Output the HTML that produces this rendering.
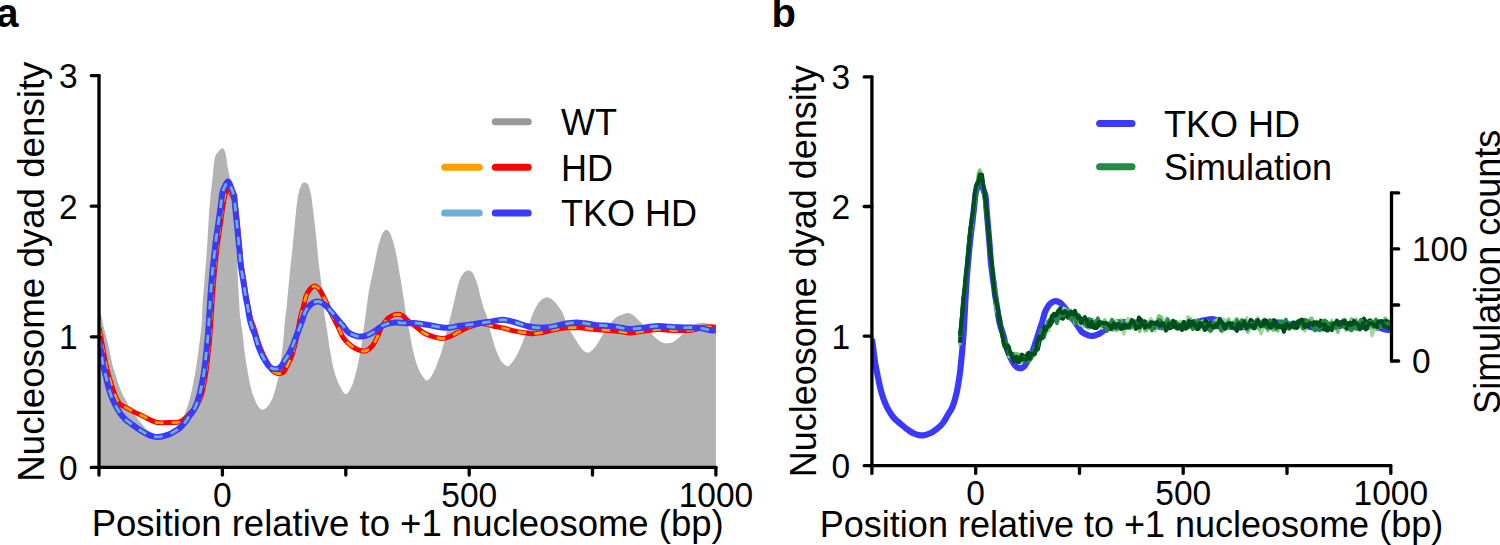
<!DOCTYPE html>
<html><head><meta charset="utf-8"><style>
html,body{margin:0;padding:0;background:#fff;width:1500px;height:545px;overflow:hidden;}
svg{display:block;}
text{font-family:"Liberation Sans", sans-serif;fill:#000;}
</style></head><body>
<svg width="1500" height="545" viewBox="0 0 1500 545">
<defs><clipPath id="ca"><rect x="99.05" y="0" width="616.85" height="467.40"/></clipPath><clipPath id="cb"><rect x="871.90" y="0" width="519.40" height="465.70"/></clipPath></defs>
<path d="M99.0,313.5 C99.4,313.6 100.1,312.2 100.9,314.4 C101.7,316.6 102.7,322.6 103.6,326.5 C104.5,330.4 105.5,333.8 106.4,337.5 C107.3,341.2 108.3,344.9 109.1,348.6 C109.9,352.3 110.7,356.8 111.3,359.6 C111.9,362.4 112.0,363.4 112.6,365.5 C113.2,367.6 114.1,369.7 114.9,372.2 C115.7,374.7 116.4,377.7 117.3,380.5 C118.2,383.3 119.3,386.3 120.3,388.9 C121.3,391.5 122.2,393.8 123.3,396.0 C124.4,398.2 125.7,399.8 126.8,402.0 C127.9,404.2 128.6,407.1 130.0,409.5 C131.4,411.9 134.0,414.2 135.5,416.1 C137.0,418.0 137.8,419.0 139.2,420.7 C140.6,422.4 142.3,424.5 143.8,426.2 C145.3,427.9 146.8,429.7 148.3,430.8 C149.8,431.9 151.5,432.4 152.9,433.0 C154.3,433.6 155.1,433.9 156.6,434.2 C158.1,434.5 160.3,435.0 162.0,435.0 C163.7,435.0 165.3,434.6 167.0,434.0 C168.7,433.4 170.3,432.7 172.0,431.5 C173.7,430.3 175.5,428.8 177.0,427.0 C178.5,425.2 179.8,422.4 181.0,420.5 C182.2,418.6 182.9,418.2 184.0,415.8 C185.1,413.4 186.3,410.1 187.5,406.4 C188.7,402.7 189.9,398.7 191.1,393.5 C192.3,388.3 193.7,381.2 194.8,375.1 C195.9,369.0 196.7,362.9 197.6,356.8 C198.5,350.7 199.3,344.2 200.0,338.4 C200.7,332.6 201.4,327.8 201.8,322.0 C202.2,316.2 202.3,309.3 202.6,303.8 C202.9,298.3 203.4,294.0 203.8,289.1 C204.2,284.2 204.5,279.3 204.9,274.4 C205.3,269.5 205.8,264.6 206.2,259.7 C206.6,254.8 206.9,249.6 207.2,245.0 C207.5,240.4 207.7,237.2 208.0,232.0 C208.3,226.8 208.6,219.4 209.0,214.1 C209.4,208.8 209.8,204.7 210.2,200.0 C210.6,195.3 211.1,190.3 211.6,186.0 C212.1,181.7 212.5,177.5 212.9,174.0 C213.3,170.5 213.5,167.6 213.8,165.0 C214.1,162.4 214.3,160.2 214.7,158.5 C215.1,156.8 215.3,155.7 216.0,154.5 C216.7,153.3 217.9,152.2 218.7,151.3 C219.4,150.4 219.9,149.8 220.5,149.3 C221.1,148.8 221.5,148.5 222.0,148.4 C222.5,148.3 223.0,148.4 223.5,148.8 C224.0,149.2 224.4,150.1 224.8,151.0 C225.2,151.9 225.5,153.2 225.8,154.5 C226.1,155.8 226.3,157.0 226.6,159.0 C226.9,161.0 227.2,164.2 227.6,166.5 C228.0,168.8 228.4,170.8 228.9,173.0 C229.4,175.2 229.9,177.7 230.3,179.7 C230.8,181.7 231.2,183.3 231.6,185.0 C232.0,186.7 232.2,186.7 232.6,190.0 C233.0,193.3 233.4,199.7 233.8,205.0 C234.2,210.3 234.6,216.2 235.0,222.0 C235.4,227.8 235.7,234.6 236.0,240.0 C236.3,245.4 236.6,249.8 236.8,254.7 C237.1,259.6 237.3,264.5 237.5,269.4 C237.7,274.3 237.9,279.2 238.2,284.1 C238.4,289.0 238.7,293.9 239.0,298.8 C239.3,303.7 239.5,309.6 239.8,313.5 C240.1,317.4 240.5,318.7 241.0,322.0 C241.5,325.3 242.0,328.4 242.6,333.4 C243.2,338.4 243.8,345.7 244.6,351.8 C245.4,357.9 246.3,364.0 247.4,370.1 C248.5,376.2 249.6,383.3 251.0,388.5 C252.4,393.7 254.3,398.2 255.6,401.4 C256.9,404.6 257.8,406.1 259.0,407.5 C260.2,408.9 261.4,409.8 262.8,409.7 C264.2,409.6 265.9,408.4 267.5,406.6 C269.1,404.8 270.9,401.7 272.2,398.8 C273.5,395.9 274.3,393.0 275.3,389.4 C276.3,385.8 277.5,381.6 278.4,376.9 C279.3,372.2 280.1,366.5 280.8,361.3 C281.5,356.1 282.2,350.8 282.8,345.6 C283.4,340.4 283.7,334.6 284.1,330.0 C284.5,325.4 284.9,321.6 285.3,318.0 C285.7,314.4 286.1,312.3 286.5,308.6 C286.9,304.9 287.2,300.0 287.6,295.7 C288.0,291.4 288.5,287.2 288.9,282.9 C289.3,278.6 289.8,273.5 290.1,270.0 C290.5,266.5 290.5,266.3 291.0,261.9 C291.5,257.5 292.3,249.6 292.9,243.5 C293.5,237.4 294.1,231.2 294.7,225.1 C295.3,219.0 295.9,212.0 296.5,206.8 C297.1,201.6 297.6,197.4 298.4,193.9 C299.2,190.4 300.3,187.4 301.1,185.6 C301.9,183.8 302.4,183.5 303.0,183.0 C303.6,182.5 304.2,182.5 304.8,182.5 C305.4,182.5 306.0,182.5 306.6,183.0 C307.2,183.5 307.8,183.8 308.5,185.6 C309.2,187.4 310.2,190.4 310.9,193.9 C311.6,197.4 312.0,201.6 312.7,206.8 C313.4,212.0 314.2,219.0 314.9,225.1 C315.6,231.2 316.2,237.4 316.8,243.5 C317.4,249.6 318.1,257.5 318.6,261.9 C319.1,266.3 319.3,267.5 319.6,270.0 C319.9,272.5 320.2,274.5 320.5,277.0 C320.8,279.5 321.2,281.7 321.6,285.0 C322.0,288.3 322.4,292.8 322.8,297.0 C323.2,301.2 323.6,306.4 324.0,310.2 C324.4,314.0 324.8,316.6 325.3,320.0 C325.8,323.4 326.3,325.3 327.1,330.4 C327.9,335.5 328.9,343.9 330.1,350.6 C331.3,357.3 332.4,364.7 334.1,370.8 C335.8,376.9 338.2,383.1 340.2,387.0 C342.2,390.9 344.3,394.4 346.3,394.0 C348.3,393.6 350.6,388.8 352.3,384.9 C354.0,381.0 355.2,375.5 356.4,370.8 C357.6,366.1 358.5,361.0 359.4,356.7 C360.2,352.4 360.8,349.4 361.5,345.0 C362.2,340.6 362.7,335.2 363.4,330.4 C364.1,325.6 364.9,320.7 365.5,316.0 C366.1,311.3 366.7,306.3 367.3,302.0 C367.9,297.7 368.5,293.7 369.1,290.0 C369.8,286.3 370.5,283.2 371.2,280.0 C371.9,276.8 372.5,273.8 373.2,270.5 C373.9,267.2 374.4,264.4 375.2,260.4 C376.0,256.4 377.2,250.3 378.2,246.3 C379.2,242.3 380.4,238.7 381.3,236.2 C382.2,233.7 383.0,232.5 383.8,231.5 C384.6,230.5 385.5,230.1 386.3,230.1 C387.1,230.1 388.0,230.5 388.8,231.5 C389.6,232.5 390.5,233.7 391.4,236.2 C392.3,238.7 393.4,242.3 394.4,246.3 C395.4,250.3 396.5,255.7 397.4,260.4 C398.3,265.1 399.0,269.7 399.8,274.5 C400.6,279.3 401.6,284.4 402.3,289.0 C403.0,293.6 403.6,298.0 404.2,302.0 C404.8,306.0 405.3,309.7 405.8,313.0 C406.3,316.3 406.8,319.3 407.3,322.0 C407.8,324.7 408.3,326.1 408.9,329.0 C409.5,331.9 410.1,335.4 410.8,339.3 C411.6,343.2 412.4,348.0 413.4,352.1 C414.4,356.2 415.4,360.3 416.6,363.7 C417.8,367.1 419.1,370.2 420.4,372.7 C421.7,375.2 423.2,377.2 424.3,378.5 C425.4,379.8 425.8,380.6 426.9,380.4 C428.0,380.2 429.4,378.9 430.7,377.2 C432.0,375.5 433.4,372.6 434.6,370.1 C435.8,367.6 436.9,364.4 437.8,362.0 C438.7,359.6 439.5,357.8 440.1,356.0 C440.8,354.2 441.2,352.7 441.7,351.0 C442.2,349.3 442.6,347.7 443.1,346.0 C443.6,344.3 444.1,342.8 444.5,341.0 C444.9,339.2 445.4,337.3 445.8,335.5 C446.2,333.7 446.6,331.9 447.0,330.0 C447.4,328.1 447.9,326.2 448.5,324.0 C449.1,321.8 449.9,319.0 450.5,316.5 C451.1,314.0 451.8,311.7 452.4,309.0 C453.0,306.3 453.7,303.4 454.4,300.5 C455.1,297.6 455.7,294.3 456.4,291.5 C457.1,288.7 457.8,285.8 458.5,283.5 C459.2,281.2 459.9,279.2 460.7,277.5 C461.5,275.8 462.6,274.4 463.5,273.3 C464.4,272.2 465.0,271.7 465.8,271.2 C466.6,270.7 467.5,270.5 468.3,270.5 C469.1,270.5 470.0,270.6 470.8,271.2 C471.6,271.8 472.2,271.9 473.3,274.1 C474.4,276.3 476.2,280.5 477.4,284.2 C478.6,287.9 479.2,292.1 480.4,296.4 C481.6,300.7 483.4,306.9 484.4,310.0 C485.4,313.1 485.9,313.3 486.5,315.0 C487.1,316.7 487.5,317.5 488.1,320.0 C488.7,322.5 489.4,327.3 490.1,330.2 C490.8,333.1 491.4,334.8 492.1,337.2 C492.8,339.6 493.4,341.9 494.1,344.3 C494.9,346.7 495.8,349.2 496.6,351.4 C497.5,353.6 498.3,355.5 499.2,357.4 C500.1,359.2 501.2,361.2 502.2,362.5 C503.2,363.8 504.1,364.4 505.2,365.0 C506.2,365.6 507.2,366.7 508.5,366.0 C509.8,365.3 511.6,363.1 513.2,360.9 C514.8,358.7 516.5,356.0 518.1,352.7 C519.7,349.4 521.5,345.0 523.0,341.1 C524.5,337.2 526.0,333.2 527.2,329.6 C528.5,326.0 529.3,323.0 530.5,319.7 C531.7,316.4 533.1,312.8 534.6,309.8 C536.1,306.8 538.0,303.5 539.6,301.5 C541.2,299.5 543.1,298.6 544.5,297.9 C545.9,297.2 546.4,297.1 547.8,297.4 C549.2,297.7 551.1,298.5 552.8,299.9 C554.4,301.3 556.1,303.4 557.7,305.6 C559.4,307.8 561.2,310.1 562.7,313.1 C564.2,316.1 565.1,320.5 566.6,323.8 C568.1,327.1 570.0,330.0 571.6,332.9 C573.2,335.8 574.9,338.5 576.5,341.1 C578.1,343.7 579.7,346.6 581.5,348.5 C583.3,350.4 585.3,352.6 587.2,352.7 C589.1,352.8 591.2,351.0 593.0,349.4 C594.8,347.8 596.4,345.3 598.0,342.8 C599.6,340.3 601.2,337.2 602.9,334.5 C604.5,331.8 606.2,328.6 607.9,326.3 C609.5,324.0 611.1,322.1 612.8,320.5 C614.4,318.9 616.1,317.4 617.8,316.4 C619.4,315.4 621.1,315.0 622.7,314.4 C624.4,313.8 626.0,312.9 627.7,313.0 C629.4,313.1 631.1,313.9 632.7,314.8 C634.3,315.8 635.6,317.3 637.1,318.7 C638.6,320.1 640.0,321.6 641.5,323.1 C643.0,324.7 644.2,326.3 645.9,328.0 C647.5,329.7 649.6,331.6 651.4,333.5 C653.2,335.4 655.1,337.6 656.9,339.1 C658.7,340.6 660.5,341.7 662.4,342.4 C664.2,343.1 666.1,343.3 668.0,343.2 C669.9,343.1 671.7,342.8 673.5,341.8 C675.3,340.8 677.2,339.0 679.0,337.4 C680.8,335.8 682.7,334.0 684.5,332.4 C686.3,330.8 688.2,329.4 690.0,328.0 C691.8,326.6 693.7,325.1 695.5,324.2 C697.3,323.3 699.2,322.9 701.0,322.8 C702.8,322.7 704.7,323.2 706.5,323.4 C708.3,323.6 710.4,324.0 712.0,324.2 C713.6,324.4 715.2,324.6 715.9,324.7 L715.9,467.4 L99.0,467.4 Z" fill="#b3b3b3"/>
<g clip-path="url(#ca)">
<path d="M99.0,327.6 C99.5,329.8 100.8,336.9 101.5,341.0 C102.2,345.1 102.8,348.0 103.5,352.0 C104.2,356.0 105.2,361.2 106.0,365.0 C106.8,368.8 107.4,371.3 108.3,374.5 C109.2,377.7 110.2,380.7 111.3,384.1 C112.4,387.5 113.6,391.6 114.9,394.8 C116.2,398.0 117.7,401.3 119.1,403.2 C120.5,405.1 121.5,405.1 123.3,406.2 C125.1,407.3 128.1,408.7 130.0,409.7 C131.9,410.7 133.1,411.6 134.6,412.4 C136.1,413.2 137.7,413.6 139.2,414.3 C140.7,415.0 142.3,415.8 143.8,416.6 C145.3,417.4 146.8,418.1 148.3,418.9 C149.8,419.6 151.4,420.5 152.9,421.1 C154.4,421.7 156.0,422.2 157.5,422.5 C159.0,422.8 160.6,422.8 162.1,422.8 C163.6,422.8 165.2,422.6 166.7,422.5 C168.2,422.4 169.8,422.5 171.3,422.5 C172.8,422.5 174.4,422.6 175.9,422.5 C177.4,422.4 179.0,422.3 180.5,421.6 C182.0,420.9 183.5,419.8 185.0,418.5 C186.5,417.2 187.6,416.1 189.5,414.0 C191.4,411.9 194.4,409.4 196.5,406.0 C198.6,402.6 200.3,398.6 201.8,393.5 C203.3,388.4 204.5,381.2 205.5,375.1 C206.5,369.0 207.1,362.9 207.8,356.8 C208.5,350.7 209.2,344.5 209.7,338.4 C210.2,332.3 210.6,325.7 211.0,320.0 C211.4,314.3 211.7,309.2 212.0,304.0 C212.3,298.8 212.6,293.9 213.0,289.0 C213.4,284.1 213.8,279.3 214.2,274.4 C214.6,269.5 215.2,264.4 215.7,259.7 C216.2,255.0 216.7,249.8 217.2,246.0 C217.7,242.2 218.1,239.9 218.5,237.0 C218.9,234.1 219.2,231.9 219.7,228.8 C220.1,225.7 220.7,221.9 221.2,218.5 C221.7,215.1 222.1,211.4 222.6,208.2 C223.1,205.0 223.5,201.9 224.0,199.4 C224.5,196.9 225.0,194.7 225.5,193.0 C226.0,191.3 226.5,189.6 227.2,189.2 C227.9,188.8 228.7,189.5 229.5,190.5 C230.3,191.5 231.2,193.4 232.0,195.0 C232.8,196.6 233.7,198.2 234.3,200.0 C234.9,201.8 235.1,203.5 235.5,206.0 C235.9,208.5 236.2,211.7 236.5,215.0 C236.8,218.3 237.2,222.2 237.6,226.0 C238.0,229.8 238.3,233.6 238.7,237.6 C239.1,241.6 239.5,245.9 239.9,250.0 C240.3,254.1 240.5,258.3 240.9,262.0 C241.3,265.7 241.8,268.7 242.4,272.4 C243.0,276.1 243.7,280.2 244.3,284.1 C244.9,288.0 245.4,292.1 246.1,296.0 C246.8,299.9 247.6,303.8 248.3,307.6 C249.1,311.4 249.7,315.6 250.6,319.0 C251.5,322.4 252.9,324.8 254.0,328.0 C255.1,331.2 255.9,335.1 257.0,338.5 C258.1,341.9 259.2,345.2 260.5,348.5 C261.8,351.8 263.5,355.6 265.0,358.5 C266.5,361.4 268.3,364.0 269.5,366.0 C270.7,368.0 270.8,369.2 272.2,370.5 C273.6,371.8 275.9,373.2 277.7,373.5 C279.5,373.8 281.8,373.2 283.1,372.5 C284.4,371.8 284.5,370.6 285.4,369.0 C286.3,367.4 287.6,365.3 288.7,363.0 C289.8,360.7 291.1,357.9 292.0,355.3 C292.9,352.7 293.5,350.3 294.2,347.5 C294.9,344.7 295.8,341.6 296.4,338.7 C297.0,335.8 297.4,333.4 298.1,329.9 C298.8,326.4 299.5,321.6 300.4,317.6 C301.3,313.6 302.6,309.6 303.6,306.0 C304.6,302.4 305.2,298.4 306.2,295.7 C307.2,293.0 308.0,291.5 309.4,289.9 C310.8,288.3 312.9,286.1 314.6,286.1 C316.3,286.1 318.2,288.1 319.7,289.9 C321.2,291.7 322.3,294.5 323.6,297.0 C324.9,299.5 326.1,301.9 327.4,304.7 C328.7,307.5 329.8,310.6 331.3,313.7 C332.8,316.8 334.8,320.1 336.2,323.0 C337.6,325.9 338.7,328.3 340.0,331.0 C341.3,333.7 342.1,336.4 344.2,339.0 C346.2,341.6 349.6,344.7 352.3,346.6 C355.0,348.5 358.0,349.9 360.4,350.6 C362.8,351.3 364.5,351.4 366.5,350.6 C368.5,349.8 370.6,348.0 372.5,345.6 C374.4,343.2 376.1,339.5 377.6,336.5 C379.1,333.5 379.7,330.4 381.3,327.5 C382.9,324.6 385.4,321.1 387.3,319.0 C389.2,316.9 391.1,316.0 393.0,315.2 C394.9,314.4 396.7,314.2 398.4,314.3 C400.1,314.4 401.5,315.0 403.0,316.0 C404.5,317.0 405.4,318.6 407.3,320.2 C409.2,321.8 411.9,323.6 414.7,325.7 C417.5,327.8 420.8,331.2 423.9,333.0 C426.9,334.8 429.9,335.8 433.0,336.7 C436.1,337.6 439.4,338.5 442.2,338.5 C444.9,338.5 446.8,337.8 449.5,336.7 C452.2,335.6 456.1,333.4 458.7,332.1 C461.3,330.8 463.1,329.7 465.0,328.8 C466.9,327.9 467.7,327.6 470.3,326.7 C472.9,325.8 477.6,324.0 480.4,323.6 C483.2,323.2 484.9,323.9 487.0,324.3 C489.1,324.7 490.3,325.4 493.0,326.0 C495.7,326.6 500.2,327.3 503.3,328.0 C506.4,328.7 508.8,329.7 511.5,330.4 C514.2,331.1 517.0,331.5 519.8,332.0 C522.5,332.5 525.8,332.9 528.0,333.2 C530.2,333.5 531.1,333.8 533.0,333.7 C534.9,333.6 537.1,333.3 539.6,332.9 C542.1,332.5 545.0,331.8 547.8,331.2 C550.5,330.6 553.2,329.8 556.1,329.2 C559.0,328.6 561.6,328.2 565.0,327.9 C568.4,327.6 573.2,327.6 576.5,327.6 C579.8,327.7 582.0,327.9 584.8,328.2 C587.5,328.5 590.2,328.9 593.0,329.2 C595.8,329.5 598.5,329.7 601.3,329.9 C604.0,330.1 606.8,330.2 609.5,330.4 C612.2,330.6 615.0,330.8 617.8,331.2 C620.5,331.6 623.9,332.2 626.0,332.5 C628.1,332.8 628.8,333.0 630.5,333.0 C632.2,333.0 634.2,332.7 636.0,332.4 C637.8,332.1 639.7,331.6 641.5,331.3 C643.3,331.0 645.2,331.0 647.0,330.8 C648.8,330.6 650.7,330.2 652.5,330.0 C654.3,329.8 656.2,329.4 658.0,329.4 C659.8,329.3 661.6,329.6 663.5,329.7 C665.4,329.8 667.2,330.1 669.1,330.2 C671.0,330.3 672.8,330.4 674.6,330.5 C676.4,330.6 678.3,330.5 680.1,330.5 C681.9,330.5 683.8,330.6 685.6,330.5 C687.4,330.4 689.3,330.4 691.1,330.2 C692.9,330.0 694.8,329.6 696.6,329.1 C698.4,328.7 700.3,327.9 702.1,327.5 C703.9,327.1 705.8,327.0 707.6,326.9 C709.4,326.8 711.7,326.8 713.1,326.9 C714.5,326.9 715.4,327.1 715.9,327.2" fill="none" stroke="#fa0000" stroke-width="5.0" stroke-linejoin="round"/>
<path d="M99.0,327.6 C99.5,329.8 100.8,336.9 101.5,341.0 C102.2,345.1 102.8,348.0 103.5,352.0 C104.2,356.0 105.2,361.2 106.0,365.0 C106.8,368.8 107.4,371.3 108.3,374.5 C109.2,377.7 110.2,380.7 111.3,384.1 C112.4,387.5 113.6,391.6 114.9,394.8 C116.2,398.0 117.7,401.3 119.1,403.2 C120.5,405.1 121.5,405.1 123.3,406.2 C125.1,407.3 128.1,408.7 130.0,409.7 C131.9,410.7 133.1,411.6 134.6,412.4 C136.1,413.2 137.7,413.6 139.2,414.3 C140.7,415.0 142.3,415.8 143.8,416.6 C145.3,417.4 146.8,418.1 148.3,418.9 C149.8,419.6 151.4,420.5 152.9,421.1 C154.4,421.7 156.0,422.2 157.5,422.5 C159.0,422.8 160.6,422.8 162.1,422.8 C163.6,422.8 165.2,422.6 166.7,422.5 C168.2,422.4 169.8,422.5 171.3,422.5 C172.8,422.5 174.4,422.6 175.9,422.5 C177.4,422.4 179.0,422.3 180.5,421.6 C182.0,420.9 183.5,419.8 185.0,418.5 C186.5,417.2 187.6,416.1 189.5,414.0 C191.4,411.9 194.4,409.4 196.5,406.0 C198.6,402.6 200.3,398.6 201.8,393.5 C203.3,388.4 204.5,381.2 205.5,375.1 C206.5,369.0 207.1,362.9 207.8,356.8 C208.5,350.7 209.2,344.5 209.7,338.4 C210.2,332.3 210.6,325.7 211.0,320.0 C211.4,314.3 211.7,309.2 212.0,304.0 C212.3,298.8 212.6,293.9 213.0,289.0 C213.4,284.1 213.8,279.3 214.2,274.4 C214.6,269.5 215.2,264.4 215.7,259.7 C216.2,255.0 216.7,249.8 217.2,246.0 C217.7,242.2 218.1,239.9 218.5,237.0 C218.9,234.1 219.2,231.9 219.7,228.8 C220.1,225.7 220.7,221.9 221.2,218.5 C221.7,215.1 222.1,211.4 222.6,208.2 C223.1,205.0 223.5,201.9 224.0,199.4 C224.5,196.9 225.0,194.7 225.5,193.0 C226.0,191.3 226.5,189.6 227.2,189.2 C227.9,188.8 228.7,189.5 229.5,190.5 C230.3,191.5 231.2,193.4 232.0,195.0 C232.8,196.6 233.7,198.2 234.3,200.0 C234.9,201.8 235.1,203.5 235.5,206.0 C235.9,208.5 236.2,211.7 236.5,215.0 C236.8,218.3 237.2,222.2 237.6,226.0 C238.0,229.8 238.3,233.6 238.7,237.6 C239.1,241.6 239.5,245.9 239.9,250.0 C240.3,254.1 240.5,258.3 240.9,262.0 C241.3,265.7 241.8,268.7 242.4,272.4 C243.0,276.1 243.7,280.2 244.3,284.1 C244.9,288.0 245.4,292.1 246.1,296.0 C246.8,299.9 247.6,303.8 248.3,307.6 C249.1,311.4 249.7,315.6 250.6,319.0 C251.5,322.4 252.9,324.8 254.0,328.0 C255.1,331.2 255.9,335.1 257.0,338.5 C258.1,341.9 259.2,345.2 260.5,348.5 C261.8,351.8 263.5,355.6 265.0,358.5 C266.5,361.4 268.3,364.0 269.5,366.0 C270.7,368.0 270.8,369.2 272.2,370.5 C273.6,371.8 275.9,373.2 277.7,373.5 C279.5,373.8 281.8,373.2 283.1,372.5 C284.4,371.8 284.5,370.6 285.4,369.0 C286.3,367.4 287.6,365.3 288.7,363.0 C289.8,360.7 291.1,357.9 292.0,355.3 C292.9,352.7 293.5,350.3 294.2,347.5 C294.9,344.7 295.8,341.6 296.4,338.7 C297.0,335.8 297.4,333.4 298.1,329.9 C298.8,326.4 299.5,321.6 300.4,317.6 C301.3,313.6 302.6,309.6 303.6,306.0 C304.6,302.4 305.2,298.4 306.2,295.7 C307.2,293.0 308.0,291.5 309.4,289.9 C310.8,288.3 312.9,286.1 314.6,286.1 C316.3,286.1 318.2,288.1 319.7,289.9 C321.2,291.7 322.3,294.5 323.6,297.0 C324.9,299.5 326.1,301.9 327.4,304.7 C328.7,307.5 329.8,310.6 331.3,313.7 C332.8,316.8 334.8,320.1 336.2,323.0 C337.6,325.9 338.7,328.3 340.0,331.0 C341.3,333.7 342.1,336.4 344.2,339.0 C346.2,341.6 349.6,344.7 352.3,346.6 C355.0,348.5 358.0,349.9 360.4,350.6 C362.8,351.3 364.5,351.4 366.5,350.6 C368.5,349.8 370.6,348.0 372.5,345.6 C374.4,343.2 376.1,339.5 377.6,336.5 C379.1,333.5 379.7,330.4 381.3,327.5 C382.9,324.6 385.4,321.1 387.3,319.0 C389.2,316.9 391.1,316.0 393.0,315.2 C394.9,314.4 396.7,314.2 398.4,314.3 C400.1,314.4 401.5,315.0 403.0,316.0 C404.5,317.0 405.4,318.6 407.3,320.2 C409.2,321.8 411.9,323.6 414.7,325.7 C417.5,327.8 420.8,331.2 423.9,333.0 C426.9,334.8 429.9,335.8 433.0,336.7 C436.1,337.6 439.4,338.5 442.2,338.5 C444.9,338.5 446.8,337.8 449.5,336.7 C452.2,335.6 456.1,333.4 458.7,332.1 C461.3,330.8 463.1,329.7 465.0,328.8 C466.9,327.9 467.7,327.6 470.3,326.7 C472.9,325.8 477.6,324.0 480.4,323.6 C483.2,323.2 484.9,323.9 487.0,324.3 C489.1,324.7 490.3,325.4 493.0,326.0 C495.7,326.6 500.2,327.3 503.3,328.0 C506.4,328.7 508.8,329.7 511.5,330.4 C514.2,331.1 517.0,331.5 519.8,332.0 C522.5,332.5 525.8,332.9 528.0,333.2 C530.2,333.5 531.1,333.8 533.0,333.7 C534.9,333.6 537.1,333.3 539.6,332.9 C542.1,332.5 545.0,331.8 547.8,331.2 C550.5,330.6 553.2,329.8 556.1,329.2 C559.0,328.6 561.6,328.2 565.0,327.9 C568.4,327.6 573.2,327.6 576.5,327.6 C579.8,327.7 582.0,327.9 584.8,328.2 C587.5,328.5 590.2,328.9 593.0,329.2 C595.8,329.5 598.5,329.7 601.3,329.9 C604.0,330.1 606.8,330.2 609.5,330.4 C612.2,330.6 615.0,330.8 617.8,331.2 C620.5,331.6 623.9,332.2 626.0,332.5 C628.1,332.8 628.8,333.0 630.5,333.0 C632.2,333.0 634.2,332.7 636.0,332.4 C637.8,332.1 639.7,331.6 641.5,331.3 C643.3,331.0 645.2,331.0 647.0,330.8 C648.8,330.6 650.7,330.2 652.5,330.0 C654.3,329.8 656.2,329.4 658.0,329.4 C659.8,329.3 661.6,329.6 663.5,329.7 C665.4,329.8 667.2,330.1 669.1,330.2 C671.0,330.3 672.8,330.4 674.6,330.5 C676.4,330.6 678.3,330.5 680.1,330.5 C681.9,330.5 683.8,330.6 685.6,330.5 C687.4,330.4 689.3,330.4 691.1,330.2 C692.9,330.0 694.8,329.6 696.6,329.1 C698.4,328.7 700.3,327.9 702.1,327.5 C703.9,327.1 705.8,327.0 707.6,326.9 C709.4,326.8 711.7,326.8 713.1,326.9 C714.5,326.9 715.4,327.1 715.9,327.2" fill="none" stroke="#ffa000" stroke-width="2.8" stroke-dasharray="8.5,8.5" stroke-linejoin="round"/>
<path d="M99.0,339.7 C99.5,342.3 100.9,351.1 101.6,355.2 C102.3,359.3 102.3,360.9 103.0,364.5 C103.7,368.1 105.0,372.8 106.0,376.9 C107.0,381.0 107.8,385.2 108.9,388.9 C110.0,392.6 111.2,396.0 112.5,399.2 C113.8,402.4 115.1,405.0 116.7,407.8 C118.3,410.6 120.5,413.8 122.1,415.8 C123.6,417.8 124.7,418.8 126.0,420.0 C127.3,421.2 128.6,421.9 130.0,423.0 C131.4,424.1 133.1,425.2 134.6,426.3 C136.1,427.4 137.7,428.6 139.2,429.6 C140.7,430.6 142.3,431.5 143.8,432.4 C145.3,433.2 146.8,434.0 148.3,434.7 C149.8,435.4 151.4,435.9 152.9,436.3 C154.4,436.7 156.0,436.9 157.5,436.9 C159.0,436.9 160.6,436.8 162.1,436.5 C163.6,436.2 165.2,435.7 166.7,435.2 C168.2,434.7 169.8,434.1 171.3,433.3 C172.8,432.5 174.4,431.6 175.9,430.6 C177.4,429.6 179.0,428.7 180.5,427.3 C182.0,425.9 183.6,424.3 185.0,422.5 C186.4,420.7 187.4,418.9 189.0,416.5 C190.6,414.1 193.0,412.0 194.8,408.2 C196.6,404.4 198.4,399.0 199.8,393.5 C201.2,388.0 202.5,381.2 203.5,375.1 C204.5,369.0 205.1,362.9 205.8,356.8 C206.5,350.7 207.2,344.5 207.7,338.4 C208.2,332.3 208.6,325.7 209.0,320.0 C209.4,314.3 209.7,309.2 210.0,304.0 C210.3,298.8 210.6,293.9 211.0,289.0 C211.4,284.1 211.8,279.3 212.2,274.4 C212.6,269.5 213.2,264.4 213.7,259.7 C214.2,255.0 214.8,249.8 215.2,246.0 C215.6,242.2 215.9,239.9 216.3,237.0 C216.7,234.1 217.1,231.9 217.5,228.8 C217.9,225.7 218.5,221.9 219.0,218.5 C219.5,215.1 220.0,211.4 220.4,208.2 C220.8,205.0 221.1,202.1 221.5,199.4 C221.9,196.7 222.0,194.2 222.6,192.0 C223.2,189.8 224.0,187.9 224.9,186.2 C225.8,184.4 227.0,181.8 227.8,181.5 C228.7,181.2 229.3,183.2 230.0,184.7 C230.7,186.2 231.5,188.8 232.2,190.6 C232.9,192.4 233.6,193.3 234.1,195.5 C234.6,197.7 234.6,200.7 234.9,203.8 C235.2,206.9 235.5,210.4 235.9,214.1 C236.3,217.8 236.7,222.0 237.1,225.9 C237.5,229.8 237.8,233.6 238.2,237.6 C238.6,241.6 239.0,245.9 239.4,250.0 C239.8,254.1 240.0,258.4 240.4,262.1 C240.8,265.8 241.3,268.7 241.9,272.4 C242.5,276.1 243.2,280.2 243.8,284.1 C244.4,288.0 244.9,292.0 245.6,295.9 C246.3,299.8 247.1,303.6 247.8,307.6 C248.5,311.6 249.2,316.6 250.0,320.0 C250.8,323.4 251.5,325.6 252.3,328.0 C253.1,330.4 254.0,331.8 255.0,334.7 C256.0,337.6 256.8,342.0 258.1,345.6 C259.4,349.2 260.9,353.1 262.8,356.6 C264.7,360.1 267.2,364.4 269.3,366.5 C271.4,368.6 273.3,369.1 275.1,369.2 C276.9,369.3 278.7,368.5 280.2,367.2 C281.7,365.9 282.9,363.5 284.3,361.3 C285.7,359.1 287.4,356.5 288.7,354.2 C290.0,351.9 290.9,350.1 292.0,347.5 C293.1,344.9 294.2,341.6 295.3,338.7 C296.4,335.8 297.6,332.8 298.7,329.9 C299.8,327.0 301.0,324.0 302.0,321.1 C303.0,318.2 303.9,314.7 304.9,312.4 C305.9,310.1 306.9,308.8 308.1,307.3 C309.3,305.8 310.5,304.4 312.0,303.4 C313.5,302.4 315.4,301.6 317.1,301.5 C318.8,301.4 320.6,301.8 322.3,302.8 C324.0,303.8 325.7,305.6 327.4,307.3 C329.1,309.0 330.9,311.1 332.6,313.1 C334.3,315.1 336.0,317.5 337.7,319.5 C339.4,321.5 341.0,323.2 342.8,325.3 C344.6,327.4 346.0,330.6 348.3,332.4 C350.6,334.2 354.0,335.4 356.4,336.1 C358.8,336.8 360.4,336.7 362.4,336.5 C364.4,336.3 366.5,335.7 368.5,334.8 C370.5,333.9 372.6,332.6 374.5,331.4 C376.4,330.2 378.2,328.5 380.0,327.4 C381.8,326.2 382.7,325.3 385.3,324.5 C387.9,323.7 392.0,322.7 395.4,322.5 C398.8,322.3 402.0,323.1 405.5,323.2 C409.0,323.3 412.8,322.9 416.5,323.2 C420.2,323.5 423.5,324.1 427.5,324.8 C431.5,325.5 436.6,326.7 440.4,327.2 C444.2,327.7 446.8,327.9 450.1,327.7 C453.4,327.4 456.8,326.2 460.2,325.7 C463.6,325.2 466.9,325.1 470.3,324.6 C473.7,324.2 477.0,323.5 480.4,323.0 C483.8,322.5 487.7,322.0 490.5,321.6 C493.3,321.2 494.9,320.7 497.0,320.4 C499.1,320.1 500.9,319.5 503.3,319.7 C505.7,319.9 508.8,320.6 511.5,321.3 C514.2,322.0 517.0,323.0 519.8,323.8 C522.5,324.6 525.2,325.7 528.0,326.3 C530.8,326.9 533.5,327.4 536.3,327.6 C539.0,327.8 541.8,327.8 544.5,327.6 C547.2,327.4 550.0,327.1 552.8,326.6 C555.5,326.1 558.4,325.2 561.0,324.6 C563.6,324.1 565.7,323.6 568.3,323.3 C570.9,323.0 573.8,322.6 576.5,322.6 C579.2,322.6 582.0,323.0 584.8,323.3 C587.5,323.6 590.2,324.2 593.0,324.6 C595.8,325.0 598.5,325.2 601.3,325.4 C604.0,325.6 606.8,325.6 609.5,325.9 C612.2,326.2 615.0,326.6 617.8,327.1 C620.5,327.6 623.9,328.4 626.0,328.7 C628.1,329.0 628.8,329.1 630.5,329.1 C632.2,329.1 634.2,328.8 636.0,328.6 C637.8,328.4 639.7,328.2 641.5,328.0 C643.3,327.8 645.2,327.5 647.0,327.2 C648.8,326.9 650.7,326.6 652.5,326.4 C654.3,326.2 656.2,326.1 658.0,326.1 C659.8,326.1 661.6,326.1 663.5,326.2 C665.4,326.3 667.2,326.5 669.1,326.7 C671.0,326.9 672.8,327.1 674.6,327.2 C676.4,327.3 678.3,327.2 680.1,327.3 C681.9,327.4 683.8,327.6 685.6,327.6 C687.4,327.6 689.3,327.5 691.1,327.5 C692.9,327.5 694.8,327.6 696.6,327.7 C698.4,327.8 700.3,328.1 702.1,328.4 C703.9,328.7 705.8,329.3 707.6,329.7 C709.4,330.1 711.7,330.4 713.1,330.5 C714.5,330.6 715.4,330.5 715.9,330.5" fill="none" stroke="#3a3aff" stroke-width="6.0" stroke-linejoin="round"/>
<path d="M99.0,339.7 C99.5,342.3 100.9,351.1 101.6,355.2 C102.3,359.3 102.3,360.9 103.0,364.5 C103.7,368.1 105.0,372.8 106.0,376.9 C107.0,381.0 107.8,385.2 108.9,388.9 C110.0,392.6 111.2,396.0 112.5,399.2 C113.8,402.4 115.1,405.0 116.7,407.8 C118.3,410.6 120.5,413.8 122.1,415.8 C123.6,417.8 124.7,418.8 126.0,420.0 C127.3,421.2 128.6,421.9 130.0,423.0 C131.4,424.1 133.1,425.2 134.6,426.3 C136.1,427.4 137.7,428.6 139.2,429.6 C140.7,430.6 142.3,431.5 143.8,432.4 C145.3,433.2 146.8,434.0 148.3,434.7 C149.8,435.4 151.4,435.9 152.9,436.3 C154.4,436.7 156.0,436.9 157.5,436.9 C159.0,436.9 160.6,436.8 162.1,436.5 C163.6,436.2 165.2,435.7 166.7,435.2 C168.2,434.7 169.8,434.1 171.3,433.3 C172.8,432.5 174.4,431.6 175.9,430.6 C177.4,429.6 179.0,428.7 180.5,427.3 C182.0,425.9 183.6,424.3 185.0,422.5 C186.4,420.7 187.4,418.9 189.0,416.5 C190.6,414.1 193.0,412.0 194.8,408.2 C196.6,404.4 198.4,399.0 199.8,393.5 C201.2,388.0 202.5,381.2 203.5,375.1 C204.5,369.0 205.1,362.9 205.8,356.8 C206.5,350.7 207.2,344.5 207.7,338.4 C208.2,332.3 208.6,325.7 209.0,320.0 C209.4,314.3 209.7,309.2 210.0,304.0 C210.3,298.8 210.6,293.9 211.0,289.0 C211.4,284.1 211.8,279.3 212.2,274.4 C212.6,269.5 213.2,264.4 213.7,259.7 C214.2,255.0 214.8,249.8 215.2,246.0 C215.6,242.2 215.9,239.9 216.3,237.0 C216.7,234.1 217.1,231.9 217.5,228.8 C217.9,225.7 218.5,221.9 219.0,218.5 C219.5,215.1 220.0,211.4 220.4,208.2 C220.8,205.0 221.1,202.1 221.5,199.4 C221.9,196.7 222.0,194.2 222.6,192.0 C223.2,189.8 224.0,187.9 224.9,186.2 C225.8,184.4 227.0,181.8 227.8,181.5 C228.7,181.2 229.3,183.2 230.0,184.7 C230.7,186.2 231.5,188.8 232.2,190.6 C232.9,192.4 233.6,193.3 234.1,195.5 C234.6,197.7 234.6,200.7 234.9,203.8 C235.2,206.9 235.5,210.4 235.9,214.1 C236.3,217.8 236.7,222.0 237.1,225.9 C237.5,229.8 237.8,233.6 238.2,237.6 C238.6,241.6 239.0,245.9 239.4,250.0 C239.8,254.1 240.0,258.4 240.4,262.1 C240.8,265.8 241.3,268.7 241.9,272.4 C242.5,276.1 243.2,280.2 243.8,284.1 C244.4,288.0 244.9,292.0 245.6,295.9 C246.3,299.8 247.1,303.6 247.8,307.6 C248.5,311.6 249.2,316.6 250.0,320.0 C250.8,323.4 251.5,325.6 252.3,328.0 C253.1,330.4 254.0,331.8 255.0,334.7 C256.0,337.6 256.8,342.0 258.1,345.6 C259.4,349.2 260.9,353.1 262.8,356.6 C264.7,360.1 267.2,364.4 269.3,366.5 C271.4,368.6 273.3,369.1 275.1,369.2 C276.9,369.3 278.7,368.5 280.2,367.2 C281.7,365.9 282.9,363.5 284.3,361.3 C285.7,359.1 287.4,356.5 288.7,354.2 C290.0,351.9 290.9,350.1 292.0,347.5 C293.1,344.9 294.2,341.6 295.3,338.7 C296.4,335.8 297.6,332.8 298.7,329.9 C299.8,327.0 301.0,324.0 302.0,321.1 C303.0,318.2 303.9,314.7 304.9,312.4 C305.9,310.1 306.9,308.8 308.1,307.3 C309.3,305.8 310.5,304.4 312.0,303.4 C313.5,302.4 315.4,301.6 317.1,301.5 C318.8,301.4 320.6,301.8 322.3,302.8 C324.0,303.8 325.7,305.6 327.4,307.3 C329.1,309.0 330.9,311.1 332.6,313.1 C334.3,315.1 336.0,317.5 337.7,319.5 C339.4,321.5 341.0,323.2 342.8,325.3 C344.6,327.4 346.0,330.6 348.3,332.4 C350.6,334.2 354.0,335.4 356.4,336.1 C358.8,336.8 360.4,336.7 362.4,336.5 C364.4,336.3 366.5,335.7 368.5,334.8 C370.5,333.9 372.6,332.6 374.5,331.4 C376.4,330.2 378.2,328.5 380.0,327.4 C381.8,326.2 382.7,325.3 385.3,324.5 C387.9,323.7 392.0,322.7 395.4,322.5 C398.8,322.3 402.0,323.1 405.5,323.2 C409.0,323.3 412.8,322.9 416.5,323.2 C420.2,323.5 423.5,324.1 427.5,324.8 C431.5,325.5 436.6,326.7 440.4,327.2 C444.2,327.7 446.8,327.9 450.1,327.7 C453.4,327.4 456.8,326.2 460.2,325.7 C463.6,325.2 466.9,325.1 470.3,324.6 C473.7,324.2 477.0,323.5 480.4,323.0 C483.8,322.5 487.7,322.0 490.5,321.6 C493.3,321.2 494.9,320.7 497.0,320.4 C499.1,320.1 500.9,319.5 503.3,319.7 C505.7,319.9 508.8,320.6 511.5,321.3 C514.2,322.0 517.0,323.0 519.8,323.8 C522.5,324.6 525.2,325.7 528.0,326.3 C530.8,326.9 533.5,327.4 536.3,327.6 C539.0,327.8 541.8,327.8 544.5,327.6 C547.2,327.4 550.0,327.1 552.8,326.6 C555.5,326.1 558.4,325.2 561.0,324.6 C563.6,324.1 565.7,323.6 568.3,323.3 C570.9,323.0 573.8,322.6 576.5,322.6 C579.2,322.6 582.0,323.0 584.8,323.3 C587.5,323.6 590.2,324.2 593.0,324.6 C595.8,325.0 598.5,325.2 601.3,325.4 C604.0,325.6 606.8,325.6 609.5,325.9 C612.2,326.2 615.0,326.6 617.8,327.1 C620.5,327.6 623.9,328.4 626.0,328.7 C628.1,329.0 628.8,329.1 630.5,329.1 C632.2,329.1 634.2,328.8 636.0,328.6 C637.8,328.4 639.7,328.2 641.5,328.0 C643.3,327.8 645.2,327.5 647.0,327.2 C648.8,326.9 650.7,326.6 652.5,326.4 C654.3,326.2 656.2,326.1 658.0,326.1 C659.8,326.1 661.6,326.1 663.5,326.2 C665.4,326.3 667.2,326.5 669.1,326.7 C671.0,326.9 672.8,327.1 674.6,327.2 C676.4,327.3 678.3,327.2 680.1,327.3 C681.9,327.4 683.8,327.6 685.6,327.6 C687.4,327.6 689.3,327.5 691.1,327.5 C692.9,327.5 694.8,327.6 696.6,327.7 C698.4,327.8 700.3,328.1 702.1,328.4 C703.9,328.7 705.8,329.3 707.6,329.7 C709.4,330.1 711.7,330.4 713.1,330.5 C714.5,330.6 715.4,330.5 715.9,330.5" fill="none" stroke="#6baed6" stroke-width="2.8" stroke-dasharray="8.5,8.5" stroke-linejoin="round"/>
</g>
<g stroke="#000" stroke-width="3.3" stroke-linecap="round" fill="none">
<path d="M99.0,75.6 L99.0,467.4 L715.9,467.4"/>
<path d="M91.3,467.4 L99.0,467.4"/>
<path d="M91.3,336.8 L99.0,336.8"/>
<path d="M91.3,206.2 L99.0,206.2"/>
<path d="M91.3,75.6 L99.0,75.6"/>
<path d="M99.0,467.4 L99.0,475.1"/>
<path d="M222.4,467.4 L222.4,475.1"/>
<path d="M345.8,467.4 L345.8,475.1"/>
<path d="M469.2,467.4 L469.2,475.1"/>
<path d="M592.5,467.4 L592.5,475.1"/>
<path d="M715.9,467.4 L715.9,475.1"/>
</g>
<g clip-path="url(#cb)">
<path d="M871.9,339.0 C872.3,341.5 873.5,350.3 874.0,354.4 C874.6,358.5 874.6,360.0 875.2,363.6 C875.8,367.2 876.9,371.9 877.7,375.9 C878.6,379.9 879.3,384.1 880.2,387.8 C881.1,391.5 882.1,394.9 883.2,398.0 C884.3,401.1 885.4,403.8 886.7,406.6 C888.1,409.3 890.0,412.5 891.3,414.5 C892.6,416.5 893.5,417.5 894.6,418.7 C895.7,419.9 896.7,420.6 897.9,421.6 C899.1,422.7 900.5,423.8 901.8,424.9 C903.1,426.0 904.4,427.2 905.7,428.2 C907.0,429.2 908.3,430.1 909.5,431.0 C910.8,431.8 912.1,432.6 913.3,433.3 C914.6,433.9 915.9,434.5 917.2,434.8 C918.5,435.2 919.8,435.4 921.1,435.4 C922.4,435.5 923.6,435.3 924.9,435.0 C926.2,434.8 927.5,434.3 928.8,433.7 C930.1,433.2 931.4,432.6 932.7,431.9 C934.0,431.1 935.3,430.2 936.5,429.2 C937.8,428.2 939.1,427.2 940.4,425.9 C941.7,424.6 943.0,422.9 944.2,421.1 C945.4,419.4 946.2,417.6 947.6,415.2 C948.9,412.8 950.9,410.8 952.4,407.0 C954.0,403.1 955.4,397.8 956.7,392.4 C957.9,386.9 958.9,380.2 959.8,374.1 C960.6,368.0 961.1,362.0 961.7,355.9 C962.3,349.9 962.8,343.8 963.3,337.7 C963.7,331.6 964.1,325.1 964.4,319.4 C964.7,313.7 965.0,308.7 965.2,303.6 C965.5,298.4 965.8,293.6 966.1,288.7 C966.4,283.8 966.7,279.0 967.1,274.2 C967.5,269.3 967.9,264.3 968.3,259.6 C968.8,254.9 969.2,249.7 969.6,246.0 C970.0,242.2 970.2,239.9 970.5,237.1 C970.9,234.2 971.2,232.0 971.5,228.9 C971.9,225.9 972.4,222.1 972.8,218.7 C973.2,215.3 973.6,211.6 974.0,208.5 C974.3,205.3 974.6,202.4 974.9,199.8 C975.2,197.1 975.4,194.6 975.8,192.4 C976.3,190.2 977.0,188.4 977.8,186.7 C978.5,184.9 979.5,182.2 980.2,182.0 C980.9,181.7 981.4,183.7 982.1,185.2 C982.7,186.7 983.3,189.2 983.9,191.0 C984.5,192.8 985.1,193.7 985.5,195.9 C985.9,198.1 985.9,201.0 986.2,204.1 C986.4,207.2 986.7,210.7 987.0,214.3 C987.3,218.0 987.7,222.2 988.0,226.0 C988.4,229.9 988.6,233.7 989.0,237.7 C989.3,241.6 989.7,245.9 990.0,250.0 C990.3,254.0 990.5,258.3 990.8,262.0 C991.2,265.7 991.6,268.6 992.1,272.2 C992.5,275.8 993.1,279.9 993.7,283.8 C994.2,287.7 994.6,291.6 995.2,295.5 C995.7,299.4 996.4,303.1 997.0,307.1 C997.6,311.1 998.2,316.1 998.9,319.4 C999.5,322.8 1000.1,324.9 1000.8,327.4 C1001.5,329.8 1002.3,331.1 1003.1,334.0 C1003.9,336.9 1004.6,341.2 1005.7,344.8 C1006.8,348.5 1008.1,352.3 1009.6,355.7 C1011.2,359.2 1013.4,363.5 1015.1,365.6 C1016.8,367.7 1018.5,368.1 1020.0,368.3 C1021.5,368.4 1023.0,367.6 1024.3,366.3 C1025.6,365.0 1026.5,362.6 1027.7,360.4 C1028.9,358.3 1030.4,355.6 1031.4,353.4 C1032.5,351.1 1033.3,349.3 1034.2,346.7 C1035.1,344.2 1036.0,340.9 1037.0,338.0 C1037.9,335.1 1038.9,332.2 1039.8,329.3 C1040.8,326.3 1041.8,323.4 1042.6,320.5 C1043.5,317.6 1044.2,314.2 1045.1,311.9 C1045.9,309.6 1046.8,308.3 1047.8,306.8 C1048.8,305.3 1049.8,303.9 1051.0,303.0 C1052.3,302.0 1053.9,301.2 1055.3,301.1 C1056.8,301.0 1058.3,301.4 1059.7,302.4 C1061.1,303.3 1062.5,305.1 1064.0,306.8 C1065.4,308.5 1066.9,310.6 1068.4,312.6 C1069.8,314.6 1071.2,316.9 1072.7,318.9 C1074.1,321.0 1075.5,322.6 1076.9,324.7 C1078.4,326.8 1079.7,329.9 1081.6,331.7 C1083.5,333.5 1086.4,334.7 1088.4,335.4 C1090.4,336.1 1091.7,336.0 1093.4,335.8 C1095.1,335.6 1096.9,335.0 1098.6,334.1 C1100.3,333.3 1102.0,332.0 1103.6,330.7 C1105.2,329.5 1106.7,327.9 1108.2,326.8 C1109.8,325.6 1110.5,324.7 1112.7,323.9 C1114.9,323.1 1118.4,322.1 1121.2,321.9 C1124.0,321.7 1126.7,322.5 1129.7,322.6 C1132.6,322.7 1135.9,322.3 1138.9,322.6 C1142.0,322.9 1144.8,323.5 1148.2,324.2 C1151.5,324.9 1155.9,326.1 1159.0,326.6 C1162.2,327.1 1164.4,327.3 1167.2,327.1 C1170.0,326.8 1172.9,325.6 1175.7,325.1 C1178.5,324.6 1181.4,324.4 1184.2,324.0 C1187.0,323.5 1189.9,322.9 1192.7,322.4 C1195.5,321.9 1198.9,321.4 1201.2,321.0 C1203.5,320.6 1204.9,320.1 1206.7,319.8 C1208.5,319.5 1209.9,319.0 1212.0,319.1 C1214.0,319.3 1216.5,320.0 1218.9,320.7 C1221.2,321.4 1223.5,322.4 1225.8,323.2 C1228.2,324.0 1230.4,325.1 1232.7,325.7 C1235.1,326.3 1237.4,326.8 1239.7,327.0 C1242.0,327.2 1244.3,327.1 1246.6,327.0 C1248.9,326.8 1251.3,326.5 1253.6,326.0 C1255.9,325.5 1258.3,324.5 1260.5,324.0 C1262.7,323.4 1264.5,323.0 1266.6,322.7 C1268.8,322.4 1271.2,322.0 1273.5,322.0 C1275.8,322.0 1278.2,322.4 1280.5,322.7 C1282.8,323.0 1285.1,323.6 1287.4,324.0 C1289.7,324.3 1292.1,324.6 1294.4,324.8 C1296.7,325.0 1299.0,325.0 1301.3,325.3 C1303.6,325.6 1306.0,326.0 1308.3,326.5 C1310.6,326.9 1313.4,327.7 1315.2,328.1 C1317.0,328.4 1317.6,328.5 1319.0,328.5 C1320.4,328.4 1322.0,328.1 1323.6,328.0 C1325.1,327.8 1326.7,327.6 1328.2,327.4 C1329.8,327.1 1331.3,326.8 1332.8,326.6 C1334.4,326.3 1335.9,326.0 1337.5,325.8 C1339.0,325.6 1340.6,325.5 1342.1,325.5 C1343.6,325.4 1345.2,325.5 1346.7,325.6 C1348.3,325.7 1349.9,325.9 1351.4,326.1 C1353.0,326.2 1354.5,326.5 1356.1,326.6 C1357.6,326.7 1359.1,326.6 1360.7,326.7 C1362.2,326.7 1363.8,326.9 1365.3,327.0 C1366.9,327.0 1368.4,326.9 1369.9,326.9 C1371.5,326.9 1373.0,326.9 1374.6,327.1 C1376.1,327.2 1377.6,327.4 1379.2,327.8 C1380.7,328.1 1382.3,328.7 1383.8,329.1 C1385.4,329.4 1387.3,329.7 1388.4,329.8 C1389.6,330.0 1390.4,329.8 1390.8,329.8" fill="none" stroke="#3a3aff" stroke-width="6.2" stroke-linejoin="round"/>
<path d="M959.9,337.6 L960.9,328.7 L961.9,318.6 L962.9,304.3 L963.9,292.5 L964.9,284.3 L965.9,278.6 L966.9,266.7 L967.9,253.7 L968.9,243.1 L969.9,236.2 L970.9,232.6 L971.9,225.2 L972.9,216.2 L973.9,205.1 L974.9,200.7 L975.9,193.3 L976.9,185.2 L977.9,173.7 L978.9,172.5 L979.9,172.3 L980.9,175.2 L981.9,177.3 L982.9,183.6 L983.9,191.8 L984.9,200.3 L985.9,210.4 L986.9,216.2 L987.9,225.7 L988.9,232.9 L989.9,245.7 L990.9,251.8 L991.9,264.1 L992.9,271.6 L993.9,282.5 L994.9,296.3 L995.9,305.5 L996.9,311.9 L997.9,309.2 L998.9,314.1 L999.9,319.1 L1000.9,326.6 L1001.9,333.1 L1002.9,337.4 L1003.9,341.1 L1004.9,343.9 L1005.9,344.3 L1006.9,351.5 L1007.9,351.7 L1008.9,356.4 L1009.9,354.6 L1010.9,357.8 L1011.9,356.1 L1012.9,358.5 L1013.9,357.1 L1014.9,360.7 L1015.9,360.4 L1016.9,361.3 L1017.9,358.0 L1018.9,358.4 L1019.9,359.1 L1020.9,363.4 L1021.9,361.5 L1022.9,361.5 L1023.9,359.4 L1024.9,360.4 L1025.9,359.6 L1026.9,358.5 L1027.9,356.4 L1028.9,353.6 L1029.9,352.0 L1030.9,352.8 L1031.9,355.8 L1032.9,356.9 L1033.9,356.3 L1034.9,353.4 L1035.9,351.1 L1036.9,347.8 L1037.9,346.0 L1038.9,346.1 L1039.9,343.3 L1040.9,338.9 L1041.9,337.4 L1042.9,336.6 L1043.9,337.6 L1044.9,333.7 L1045.9,329.4 L1046.9,330.0 L1047.9,330.1 L1048.9,331.0 L1049.9,326.6 L1050.9,322.2 L1051.9,319.2 L1052.9,316.5 L1053.9,315.7 L1054.9,318.0 L1055.9,318.8 L1056.9,317.7 L1057.9,317.5 L1058.9,314.3 L1059.9,315.5 L1060.9,315.2 L1061.9,316.1 L1062.9,311.6 L1063.9,308.2 L1064.9,309.2 L1065.9,313.3 L1066.9,317.7 L1067.9,315.8 L1068.9,315.2 L1069.9,313.9 L1070.9,315.7 L1071.9,311.9 L1072.9,312.5 L1073.9,317.2 L1074.9,323.4 L1075.9,320.8 L1076.9,316.5 L1077.9,315.7 L1078.9,322.3 L1079.9,324.6 L1080.9,325.0 L1081.9,323.9 L1082.9,323.2 L1083.9,326.8 L1084.9,323.4 L1085.9,323.3 L1086.9,321.9 L1087.9,326.1 L1088.9,328.6 L1089.9,328.2 L1090.9,322.7 L1091.9,320.4 L1092.9,318.9 L1093.9,321.3 L1094.9,323.7 L1095.9,324.3 L1096.9,326.8 L1097.9,326.0 L1098.9,326.1 L1099.9,325.1 L1100.9,325.8 L1101.9,328.0 L1102.9,327.1 L1103.9,326.0 L1104.9,322.1 L1105.9,325.7 L1106.9,328.7 L1107.9,330.7 L1108.9,327.0 L1109.9,322.2 L1110.9,322.8 L1111.9,324.0 L1112.9,329.9 L1113.9,330.0 L1114.9,328.3 L1115.9,320.1 L1116.9,322.1 L1117.9,323.7 L1118.9,325.2 L1119.9,323.0 L1120.9,319.8 L1121.9,328.7 L1122.9,330.3 L1123.9,334.1 L1124.9,327.7 L1125.9,321.9 L1126.9,320.6 L1127.9,318.2 L1128.9,322.9 L1129.9,319.4 L1130.9,320.5 L1131.9,321.5 L1132.9,328.2 L1133.9,327.6 L1134.9,322.8 L1135.9,321.4 L1136.9,324.9 L1137.9,325.9 L1138.9,323.1 L1139.9,320.3 L1140.9,319.9 L1141.9,319.9 L1142.9,323.3 L1143.9,326.6 L1144.9,331.3 L1145.9,328.9 L1146.9,327.5 L1147.9,322.1 L1148.9,322.0 L1149.9,320.0 L1150.9,318.6 L1151.9,320.1 L1152.9,324.9 L1153.9,329.6 L1154.9,330.7 L1155.9,328.6 L1156.9,325.9 L1157.9,323.7 L1158.9,322.7 L1159.9,322.0 L1160.9,318.9 L1161.9,316.9 L1162.9,318.9 L1163.9,322.2 L1164.9,324.0 L1165.9,326.5 L1166.9,326.6 L1167.9,328.5 L1168.9,328.1 L1169.9,326.4 L1170.9,321.9 L1171.9,321.1 L1172.9,321.4 L1173.9,327.1 L1174.9,326.4 L1175.9,329.4 L1176.9,328.5 L1177.9,324.3 L1178.9,323.7 L1179.9,321.2 L1180.9,323.5 L1181.9,321.5 L1182.9,324.0 L1183.9,326.9 L1184.9,329.4 L1185.9,325.1 L1186.9,322.5 L1187.9,316.6 L1188.9,319.3 L1189.9,321.4 L1190.9,324.2 L1191.9,324.8 L1192.9,324.1 L1193.9,327.2 L1194.9,325.4 L1195.9,323.5 L1196.9,320.4 L1197.9,324.9 L1198.9,328.2 L1199.9,329.4 L1200.9,326.7 L1201.9,324.9 L1202.9,325.5 L1203.9,324.7 L1204.9,323.9 L1205.9,321.3 L1206.9,320.6 L1207.9,324.1 L1208.9,327.2 L1209.9,328.5 L1210.9,325.2 L1211.9,324.4 L1212.9,324.9 L1213.9,324.2 L1214.9,324.4 L1215.9,324.2 L1216.9,324.1 L1217.9,322.4 L1218.9,320.2 L1219.9,319.7 L1220.9,322.6 L1221.9,320.2 L1222.9,321.7 L1223.9,319.0 L1224.9,322.1 L1225.9,322.8 L1226.9,325.8 L1227.9,327.1 L1228.9,326.7 L1229.9,323.6 L1230.9,323.2 L1231.9,325.1 L1232.9,325.5 L1233.9,323.7 L1234.9,319.8 L1235.9,318.6 L1236.9,318.1 L1237.9,322.3 L1238.9,324.9 L1239.9,326.9 L1240.9,327.5 L1241.9,325.7 L1242.9,327.4 L1243.9,326.3 L1244.9,324.7 L1245.9,320.6 L1246.9,317.6 L1247.9,321.9 L1248.9,326.9 L1249.9,326.4 L1250.9,326.6 L1251.9,323.7 L1252.9,325.1 L1253.9,322.3 L1254.9,322.4 L1255.9,319.9 L1256.9,319.1 L1257.9,317.5 L1258.9,321.5 L1259.9,327.0 L1260.9,333.9 L1261.9,332.5 L1262.9,325.8 L1263.9,320.3 L1264.9,319.2 L1265.9,325.7 L1266.9,327.5 L1267.9,327.9 L1268.9,326.0 L1269.9,326.0 L1270.9,324.4 L1271.9,321.8 L1272.9,320.5 L1273.9,323.3 L1274.9,324.5 L1275.9,324.3 L1276.9,324.7 L1277.9,323.4 L1278.9,322.4 L1279.9,324.8 L1280.9,326.4 L1281.9,328.8 L1282.9,323.3 L1283.9,322.4 L1284.9,323.1 L1285.9,323.6 L1286.9,325.8 L1287.9,323.7 L1288.9,326.7 L1289.9,324.5 L1290.9,325.6 L1291.9,327.0 L1292.9,326.6 L1293.9,328.9 L1294.9,325.4 L1295.9,324.5 L1296.9,323.0 L1297.9,322.5 L1298.9,323.5 L1299.9,323.9 L1300.9,327.9 L1301.9,325.4 L1302.9,324.7 L1303.9,325.9 L1304.9,331.1 L1305.9,329.8 L1306.9,325.4 L1307.9,322.8 L1308.9,321.1 L1309.9,321.7 L1310.9,321.9 L1311.9,323.7 L1312.9,326.2 L1313.9,326.1 L1314.9,323.8 L1315.9,323.6 L1316.9,322.1 L1317.9,323.9 L1318.9,321.8 L1319.9,323.1 L1320.9,322.1 L1321.9,321.9 L1322.9,326.3 L1323.9,327.0 L1324.9,327.2 L1325.9,325.3 L1326.9,327.7 L1327.9,329.3 L1328.9,328.8 L1329.9,324.0 L1330.9,321.2 L1331.9,319.9 L1332.9,324.2 L1333.9,328.0 L1334.9,328.6 L1335.9,327.3 L1336.9,325.1 L1337.9,323.9 L1338.9,324.7 L1339.9,325.8 L1340.9,325.6 L1341.9,323.8 L1342.9,321.1 L1343.9,323.6 L1344.9,327.3 L1345.9,330.6 L1346.9,330.1 L1347.9,329.3 L1348.9,327.6 L1349.9,327.3 L1350.9,324.0 L1351.9,323.6 L1352.9,321.2 L1353.9,324.3 L1354.9,323.6 L1355.9,324.7 L1356.9,324.2 L1357.9,327.6 L1358.9,326.4 L1359.9,324.0 L1360.9,323.1 L1361.9,322.5 L1362.9,325.0 L1363.9,322.5 L1364.9,324.3 L1365.9,320.3 L1366.9,322.6 L1367.9,321.9 L1368.9,323.5 L1369.9,325.9 L1370.9,328.0 L1371.9,335.8 L1372.9,332.9 L1373.9,331.0 L1374.9,325.0 L1375.9,327.1 L1376.9,327.7 L1377.9,328.3 L1378.9,326.4 L1379.9,324.9 L1380.9,324.3 L1381.9,322.5 L1382.9,321.9 L1383.9,323.2 L1384.9,325.3 L1385.9,327.6 L1386.9,324.5 L1387.9,319.8 L1388.9,320.5 L1389.9,320.8" fill="none" stroke="#a1d99b" stroke-width="3.2" stroke-linejoin="round" opacity="1.00"/>
<path d="M959.9,345.4 L960.9,329.8 L961.9,313.0 L962.9,300.0 L963.9,293.7 L964.9,286.8 L965.9,274.5 L966.9,262.4 L967.9,255.3 L968.9,245.5 L969.9,238.3 L970.9,228.2 L971.9,223.4 L972.9,215.0 L973.9,205.2 L974.9,197.0 L975.9,191.7 L976.9,184.8 L977.9,179.3 L978.9,171.9 L979.9,169.9 L980.9,173.5 L981.9,180.4 L982.9,188.3 L983.9,194.6 L984.9,199.9 L985.9,209.6 L986.9,220.4 L987.9,229.3 L988.9,240.7 L989.9,248.7 L990.9,256.2 L991.9,262.0 L992.9,270.4 L993.9,280.2 L994.9,288.3 L995.9,295.3 L996.9,301.7 L997.9,309.8 L998.9,317.9 L999.9,321.5 L1000.9,326.8 L1001.9,332.4 L1002.9,339.8 L1003.9,347.4 L1004.9,347.3 L1005.9,348.7 L1006.9,348.1 L1007.9,350.3 L1008.9,352.3 L1009.9,353.9 L1010.9,355.1 L1011.9,355.0 L1012.9,354.5 L1013.9,354.9 L1014.9,353.5 L1015.9,354.9 L1016.9,353.6 L1017.9,356.1 L1018.9,354.0 L1019.9,356.2 L1020.9,356.1 L1021.9,357.6 L1022.9,356.0 L1023.9,356.7 L1024.9,359.7 L1025.9,357.7 L1026.9,357.9 L1027.9,355.0 L1028.9,356.8 L1029.9,353.2 L1030.9,354.1 L1031.9,353.7 L1032.9,356.1 L1033.9,351.4 L1034.9,348.2 L1035.9,346.6 L1036.9,346.6 L1037.9,345.6 L1038.9,341.7 L1039.9,339.6 L1040.9,337.0 L1041.9,334.1 L1042.9,331.1 L1043.9,332.2 L1044.9,333.1 L1045.9,331.6 L1046.9,330.2 L1047.9,327.0 L1048.9,324.5 L1049.9,324.7 L1050.9,322.7 L1051.9,323.3 L1052.9,319.1 L1053.9,319.0 L1054.9,317.2 L1055.9,316.7 L1056.9,316.8 L1057.9,314.9 L1058.9,313.1 L1059.9,314.5 L1060.9,316.7 L1061.9,316.1 L1062.9,314.0 L1063.9,311.2 L1064.9,309.8 L1065.9,308.9 L1066.9,313.4 L1067.9,314.7 L1068.9,312.6 L1069.9,310.1 L1070.9,310.3 L1071.9,315.2 L1072.9,317.7 L1073.9,318.7 L1074.9,317.9 L1075.9,314.8 L1076.9,317.9 L1077.9,317.0 L1078.9,319.1 L1079.9,321.6 L1080.9,321.8 L1081.9,322.6 L1082.9,319.1 L1083.9,322.0 L1084.9,323.1 L1085.9,326.2 L1086.9,326.8 L1087.9,327.5 L1088.9,323.6 L1089.9,323.8 L1090.9,320.7 L1091.9,324.9 L1092.9,324.2 L1093.9,328.2 L1094.9,325.4 L1095.9,326.0 L1096.9,324.7 L1097.9,326.6 L1098.9,326.1 L1099.9,325.1 L1100.9,323.7 L1101.9,322.9 L1102.9,322.5 L1103.9,321.2 L1104.9,319.8 L1105.9,324.5 L1106.9,325.2 L1107.9,325.8 L1108.9,324.2 L1109.9,325.9 L1110.9,327.5 L1111.9,327.7 L1112.9,330.3 L1113.9,329.1 L1114.9,329.5 L1115.9,327.3 L1116.9,330.6 L1117.9,327.3 L1118.9,329.1 L1119.9,329.1 L1120.9,325.6 L1121.9,324.9 L1122.9,325.2 L1123.9,327.2 L1124.9,325.6 L1125.9,323.0 L1126.9,325.6 L1127.9,323.6 L1128.9,324.9 L1129.9,325.8 L1130.9,327.0 L1131.9,325.8 L1132.9,321.6 L1133.9,322.7 L1134.9,320.6 L1135.9,323.5 L1136.9,321.2 L1137.9,327.7 L1138.9,327.6 L1139.9,331.5 L1140.9,327.0 L1141.9,326.9 L1142.9,325.5 L1143.9,325.5 L1144.9,329.5 L1145.9,327.9 L1146.9,330.6 L1147.9,324.7 L1148.9,323.5 L1149.9,321.9 L1150.9,321.6 L1151.9,326.4 L1152.9,326.3 L1153.9,328.7 L1154.9,328.4 L1155.9,326.7 L1156.9,325.3 L1157.9,318.0 L1158.9,315.7 L1159.9,316.4 L1160.9,317.3 L1161.9,321.8 L1162.9,324.0 L1163.9,328.3 L1164.9,324.3 L1165.9,321.2 L1166.9,318.2 L1167.9,322.1 L1168.9,325.3 L1169.9,327.2 L1170.9,326.2 L1171.9,324.9 L1172.9,326.5 L1173.9,324.9 L1174.9,322.9 L1175.9,323.0 L1176.9,325.4 L1177.9,327.9 L1178.9,326.6 L1179.9,327.0 L1180.9,327.0 L1181.9,325.9 L1182.9,327.5 L1183.9,328.5 L1184.9,329.1 L1185.9,326.0 L1186.9,323.0 L1187.9,321.0 L1188.9,319.4 L1189.9,318.2 L1190.9,319.4 L1191.9,321.7 L1192.9,324.0 L1193.9,322.7 L1194.9,321.8 L1195.9,320.9 L1196.9,321.4 L1197.9,323.6 L1198.9,322.9 L1199.9,326.3 L1200.9,321.5 L1201.9,323.7 L1202.9,321.0 L1203.9,325.5 L1204.9,325.7 L1205.9,325.5 L1206.9,325.0 L1207.9,326.5 L1208.9,330.1 L1209.9,331.5 L1210.9,328.7 L1211.9,330.2 L1212.9,326.7 L1213.9,327.1 L1214.9,320.9 L1215.9,321.5 L1216.9,319.3 L1217.9,322.1 L1218.9,319.5 L1219.9,325.1 L1220.9,326.3 L1221.9,332.0 L1222.9,330.8 L1223.9,329.8 L1224.9,327.9 L1225.9,326.3 L1226.9,322.8 L1227.9,320.0 L1228.9,319.0 L1229.9,323.8 L1230.9,323.5 L1231.9,324.4 L1232.9,321.9 L1233.9,325.5 L1234.9,326.4 L1235.9,325.6 L1236.9,322.4 L1237.9,323.6 L1238.9,327.2 L1239.9,329.1 L1240.9,328.0 L1241.9,326.3 L1242.9,327.2 L1243.9,325.1 L1244.9,325.9 L1245.9,327.9 L1246.9,331.0 L1247.9,332.3 L1248.9,329.6 L1249.9,328.8 L1250.9,325.9 L1251.9,325.2 L1252.9,323.8 L1253.9,322.6 L1254.9,323.5 L1255.9,320.3 L1256.9,324.9 L1257.9,326.0 L1258.9,329.5 L1259.9,325.5 L1260.9,323.0 L1261.9,321.9 L1262.9,320.2 L1263.9,320.5 L1264.9,319.7 L1265.9,323.9 L1266.9,326.9 L1267.9,330.9 L1268.9,327.2 L1269.9,322.6 L1270.9,322.6 L1271.9,326.2 L1272.9,330.4 L1273.9,329.1 L1274.9,328.1 L1275.9,330.0 L1276.9,330.3 L1277.9,331.1 L1278.9,325.8 L1279.9,324.5 L1280.9,325.7 L1281.9,328.4 L1282.9,329.6 L1283.9,327.0 L1284.9,327.3 L1285.9,324.8 L1286.9,324.8 L1287.9,325.4 L1288.9,329.3 L1289.9,329.0 L1290.9,326.9 L1291.9,323.6 L1292.9,323.8 L1293.9,324.2 L1294.9,326.1 L1295.9,327.0 L1296.9,327.0 L1297.9,326.3 L1298.9,322.6 L1299.9,322.4 L1300.9,325.0 L1301.9,326.3 L1302.9,325.5 L1303.9,322.6 L1304.9,326.0 L1305.9,326.6 L1306.9,324.3 L1307.9,325.3 L1308.9,321.7 L1309.9,322.0 L1310.9,318.0 L1311.9,318.0 L1312.9,321.9 L1313.9,326.5 L1314.9,327.9 L1315.9,324.8 L1316.9,321.1 L1317.9,324.8 L1318.9,325.2 L1319.9,326.6 L1320.9,326.2 L1321.9,326.3 L1322.9,325.4 L1323.9,327.0 L1324.9,327.5 L1325.9,328.6 L1326.9,326.1 L1327.9,327.0 L1328.9,328.7 L1329.9,328.9 L1330.9,326.8 L1331.9,322.8 L1332.9,324.4 L1333.9,323.9 L1334.9,325.9 L1335.9,328.5 L1336.9,330.2 L1337.9,332.5 L1338.9,328.2 L1339.9,327.6 L1340.9,325.6 L1341.9,324.0 L1342.9,320.0 L1343.9,319.0 L1344.9,319.2 L1345.9,323.7 L1346.9,327.2 L1347.9,329.5 L1348.9,326.5 L1349.9,323.9 L1350.9,319.8 L1351.9,318.7 L1352.9,321.6 L1353.9,323.1 L1354.9,323.0 L1355.9,319.2 L1356.9,320.5 L1357.9,325.1 L1358.9,324.9 L1359.9,324.9 L1360.9,325.6 L1361.9,325.6 L1362.9,324.7 L1363.9,323.8 L1364.9,323.1 L1365.9,326.3 L1366.9,325.8 L1367.9,326.4 L1368.9,323.8 L1369.9,324.8 L1370.9,326.9 L1371.9,327.1 L1372.9,322.3 L1373.9,321.9 L1374.9,321.1 L1375.9,325.9 L1376.9,323.6 L1377.9,325.6 L1378.9,324.1 L1379.9,323.8 L1380.9,320.8 L1381.9,321.1 L1382.9,322.7 L1383.9,322.1 L1384.9,318.1 L1385.9,318.3 L1386.9,324.9 L1387.9,327.7 L1388.9,326.8 L1389.9,322.1" fill="none" stroke="#74c476" stroke-width="3.2" stroke-linejoin="round" opacity="1.00"/>
<path d="M959.9,342.6 L960.9,329.3 L961.9,315.7 L962.9,302.9 L963.9,294.8 L964.9,287.7 L965.9,278.1 L966.9,267.3 L967.9,256.1 L968.9,244.6 L969.9,234.6 L970.9,226.4 L971.9,220.7 L972.9,213.8 L973.9,204.7 L974.9,197.3 L975.9,189.3 L976.9,185.3 L977.9,181.3 L978.9,180.2 L979.9,174.6 L980.9,175.1 L981.9,174.7 L982.9,185.1 L983.9,189.8 L984.9,198.1 L985.9,208.6 L986.9,217.3 L987.9,227.8 L988.9,234.1 L989.9,245.6 L990.9,254.4 L991.9,266.6 L992.9,275.4 L993.9,284.9 L994.9,292.8 L995.9,298.9 L996.9,305.6 L997.9,309.8 L998.9,315.2 L999.9,317.9 L1000.9,324.7 L1001.9,333.5 L1002.9,338.8 L1003.9,343.1 L1004.9,344.5 L1005.9,348.8 L1006.9,350.5 L1007.9,353.6 L1008.9,353.1 L1009.9,353.9 L1010.9,354.1 L1011.9,356.8 L1012.9,358.3 L1013.9,358.8 L1014.9,358.4 L1015.9,359.9 L1016.9,361.0 L1017.9,361.7 L1018.9,361.9 L1019.9,359.9 L1020.9,358.6 L1021.9,354.6 L1022.9,355.5 L1023.9,356.1 L1024.9,359.7 L1025.9,356.6 L1026.9,355.4 L1027.9,353.3 L1028.9,352.8 L1029.9,354.1 L1030.9,355.1 L1031.9,354.4 L1032.9,352.4 L1033.9,351.7 L1034.9,350.1 L1035.9,349.1 L1036.9,347.1 L1037.9,349.4 L1038.9,344.5 L1039.9,339.1 L1040.9,335.1 L1041.9,336.7 L1042.9,334.6 L1043.9,331.4 L1044.9,326.4 L1045.9,327.6 L1046.9,325.9 L1047.9,326.6 L1048.9,324.6 L1049.9,325.4 L1050.9,323.8 L1051.9,322.2 L1052.9,321.0 L1053.9,319.9 L1054.9,316.6 L1055.9,313.7 L1056.9,313.6 L1057.9,314.9 L1058.9,314.5 L1059.9,313.6 L1060.9,317.9 L1061.9,318.3 L1062.9,318.7 L1063.9,315.0 L1064.9,314.8 L1065.9,315.9 L1066.9,316.5 L1067.9,317.6 L1068.9,314.5 L1069.9,315.4 L1070.9,316.2 L1071.9,318.2 L1072.9,313.3 L1073.9,312.5 L1074.9,311.4 L1075.9,315.0 L1076.9,315.0 L1077.9,316.0 L1078.9,318.2 L1079.9,319.6 L1080.9,322.9 L1081.9,320.8 L1082.9,321.0 L1083.9,321.7 L1084.9,324.0 L1085.9,323.8 L1086.9,321.4 L1087.9,320.7 L1088.9,322.1 L1089.9,324.5 L1090.9,325.6 L1091.9,326.9 L1092.9,327.2 L1093.9,327.3 L1094.9,328.1 L1095.9,328.1 L1096.9,327.8 L1097.9,326.0 L1098.9,325.1 L1099.9,324.5 L1100.9,323.1 L1101.9,323.3 L1102.9,323.7 L1103.9,326.4 L1104.9,325.5 L1105.9,326.3 L1106.9,325.7 L1107.9,325.9 L1108.9,325.9 L1109.9,324.7 L1110.9,324.7 L1111.9,325.5 L1112.9,326.9 L1113.9,327.4 L1114.9,325.3 L1115.9,325.6 L1116.9,328.2 L1117.9,326.4 L1118.9,326.8 L1119.9,324.4 L1120.9,328.7 L1121.9,328.8 L1122.9,327.2 L1123.9,328.0 L1124.9,325.6 L1125.9,326.6 L1126.9,325.1 L1127.9,325.7 L1128.9,326.4 L1129.9,324.8 L1130.9,323.5 L1131.9,323.1 L1132.9,322.3 L1133.9,325.5 L1134.9,325.7 L1135.9,329.0 L1136.9,325.5 L1137.9,322.4 L1138.9,317.5 L1139.9,318.6 L1140.9,319.6 L1141.9,323.1 L1142.9,321.6 L1143.9,321.5 L1144.9,321.3 L1145.9,322.7 L1146.9,325.4 L1147.9,326.1 L1148.9,327.1 L1149.9,324.6 L1150.9,322.4 L1151.9,324.9 L1152.9,326.3 L1153.9,327.8 L1154.9,325.0 L1155.9,325.3 L1156.9,324.7 L1157.9,323.8 L1158.9,323.2 L1159.9,320.7 L1160.9,323.7 L1161.9,324.3 L1162.9,325.2 L1163.9,323.7 L1164.9,324.8 L1165.9,324.6 L1166.9,323.3 L1167.9,324.4 L1168.9,327.1 L1169.9,328.3 L1170.9,327.7 L1171.9,326.8 L1172.9,325.9 L1173.9,326.7 L1174.9,326.6 L1175.9,327.0 L1176.9,325.7 L1177.9,326.0 L1178.9,324.5 L1179.9,326.1 L1180.9,326.0 L1181.9,330.0 L1182.9,328.1 L1183.9,327.0 L1184.9,326.7 L1185.9,325.7 L1186.9,325.8 L1187.9,323.7 L1188.9,321.1 L1189.9,322.7 L1190.9,321.8 L1191.9,324.3 L1192.9,322.6 L1193.9,324.4 L1194.9,325.2 L1195.9,327.8 L1196.9,329.1 L1197.9,329.0 L1198.9,327.7 L1199.9,325.9 L1200.9,324.4 L1201.9,323.6 L1202.9,324.2 L1203.9,324.1 L1204.9,322.2 L1205.9,320.7 L1206.9,322.2 L1207.9,326.7 L1208.9,326.3 L1209.9,324.7 L1210.9,322.9 L1211.9,323.7 L1212.9,325.2 L1213.9,324.4 L1214.9,324.9 L1215.9,323.8 L1216.9,325.8 L1217.9,326.0 L1218.9,327.5 L1219.9,325.6 L1220.9,323.4 L1221.9,322.6 L1222.9,323.2 L1223.9,326.5 L1224.9,327.8 L1225.9,327.8 L1226.9,326.3 L1227.9,323.8 L1228.9,323.8 L1229.9,324.1 L1230.9,324.9 L1231.9,323.5 L1232.9,324.9 L1233.9,324.2 L1234.9,327.8 L1235.9,327.7 L1236.9,330.9 L1237.9,327.6 L1238.9,326.9 L1239.9,323.0 L1240.9,323.6 L1241.9,320.8 L1242.9,321.6 L1243.9,321.4 L1244.9,324.7 L1245.9,327.1 L1246.9,327.3 L1247.9,325.6 L1248.9,322.9 L1249.9,321.9 L1250.9,319.9 L1251.9,320.9 L1252.9,323.2 L1253.9,324.5 L1254.9,325.3 L1255.9,322.9 L1256.9,322.6 L1257.9,321.4 L1258.9,324.1 L1259.9,324.7 L1260.9,326.4 L1261.9,324.8 L1262.9,324.1 L1263.9,320.4 L1264.9,320.3 L1265.9,320.4 L1266.9,324.3 L1267.9,325.5 L1268.9,324.6 L1269.9,324.5 L1270.9,324.6 L1271.9,323.0 L1272.9,320.5 L1273.9,320.1 L1274.9,321.9 L1275.9,322.3 L1276.9,322.6 L1277.9,325.1 L1278.9,326.6 L1279.9,326.7 L1280.9,325.3 L1281.9,327.8 L1282.9,327.7 L1283.9,331.7 L1284.9,328.2 L1285.9,328.2 L1286.9,325.9 L1287.9,326.0 L1288.9,325.7 L1289.9,325.6 L1290.9,326.9 L1291.9,326.9 L1292.9,326.6 L1293.9,326.2 L1294.9,327.7 L1295.9,327.7 L1296.9,327.9 L1297.9,326.2 L1298.9,323.5 L1299.9,321.6 L1300.9,320.2 L1301.9,320.9 L1302.9,321.3 L1303.9,320.2 L1304.9,322.3 L1305.9,322.4 L1306.9,326.3 L1307.9,326.5 L1308.9,325.5 L1309.9,323.6 L1310.9,323.2 L1311.9,323.9 L1312.9,323.7 L1313.9,322.3 L1314.9,322.2 L1315.9,323.0 L1316.9,324.0 L1317.9,326.5 L1318.9,323.4 L1319.9,322.8 L1320.9,320.7 L1321.9,325.4 L1322.9,327.9 L1323.9,329.3 L1324.9,328.7 L1325.9,329.3 L1326.9,329.2 L1327.9,327.6 L1328.9,325.7 L1329.9,323.9 L1330.9,323.9 L1331.9,324.2 L1332.9,324.4 L1333.9,324.8 L1334.9,323.8 L1335.9,322.7 L1336.9,320.7 L1337.9,322.2 L1338.9,323.9 L1339.9,326.9 L1340.9,325.8 L1341.9,325.8 L1342.9,325.0 L1343.9,324.7 L1344.9,326.5 L1345.9,327.5 L1346.9,328.5 L1347.9,325.3 L1348.9,323.3 L1349.9,323.1 L1350.9,325.9 L1351.9,326.6 L1352.9,326.3 L1353.9,325.4 L1354.9,325.6 L1355.9,325.5 L1356.9,323.3 L1357.9,324.8 L1358.9,324.9 L1359.9,325.7 L1360.9,324.0 L1361.9,322.3 L1362.9,320.8 L1363.9,318.6 L1364.9,320.8 L1365.9,321.3 L1366.9,323.8 L1367.9,321.7 L1368.9,321.1 L1369.9,320.2 L1370.9,320.8 L1371.9,322.2 L1372.9,325.2 L1373.9,326.4 L1374.9,326.6 L1375.9,325.5 L1376.9,324.8 L1377.9,327.1 L1378.9,324.0 L1379.9,325.8 L1380.9,322.8 L1381.9,323.9 L1382.9,322.8 L1383.9,322.8 L1384.9,321.6 L1385.9,320.8 L1386.9,321.8 L1387.9,321.8 L1388.9,323.6 L1389.9,323.6" fill="none" stroke="#00441b" stroke-width="4.0" stroke-linejoin="round" opacity="1.00"/>
<path d="M959.9,336.7 L960.9,325.8 L961.9,316.1 L962.9,306.2 L963.9,296.8 L964.9,287.2 L965.9,278.7 L966.9,267.8 L967.9,256.2 L968.9,240.9 L969.9,230.9 L970.9,225.7 L971.9,221.6 L972.9,216.5 L973.9,210.6 L974.9,205.0 L975.9,197.0 L976.9,189.1 L977.9,182.2 L978.9,178.3 L979.9,175.6 L980.9,176.2 L981.9,179.2 L982.9,187.3 L983.9,195.0 L984.9,200.9 L985.9,207.5 L986.9,220.5 L987.9,231.1 L988.9,242.6 L989.9,249.5 L990.9,260.7 L991.9,270.3 L992.9,276.9 L993.9,283.2 L994.9,289.8 L995.9,298.0 L996.9,305.5 L997.9,313.9 L998.9,318.3 L999.9,323.2 L1000.9,324.1 L1001.9,329.8 L1002.9,333.7 L1003.9,340.9 L1004.9,343.8 L1005.9,341.7 L1006.9,346.0 L1007.9,348.4 L1008.9,353.9 L1009.9,354.1 L1010.9,354.2 L1011.9,353.4 L1012.9,353.7 L1013.9,356.0 L1014.9,357.4 L1015.9,358.4 L1016.9,358.6 L1017.9,358.4 L1018.9,360.2 L1019.9,360.1 L1020.9,360.2 L1021.9,358.0 L1022.9,357.7 L1023.9,361.2 L1024.9,357.9 L1025.9,359.3 L1026.9,358.7 L1027.9,361.7 L1028.9,360.4 L1029.9,360.4 L1030.9,359.2 L1031.9,356.9 L1032.9,351.8 L1033.9,351.0 L1034.9,350.9 L1035.9,351.1 L1036.9,347.6 L1037.9,345.4 L1038.9,338.7 L1039.9,337.1 L1040.9,329.7 L1041.9,332.7 L1042.9,332.1 L1043.9,337.8 L1044.9,334.7 L1045.9,331.6 L1046.9,326.3 L1047.9,321.7 L1048.9,320.8 L1049.9,319.4 L1050.9,322.0 L1051.9,317.9 L1052.9,316.7 L1053.9,315.5 L1054.9,318.2 L1055.9,318.1 L1056.9,323.4 L1057.9,319.9 L1058.9,318.3 L1059.9,312.0 L1060.9,311.4 L1061.9,314.6 L1062.9,315.9 L1063.9,315.2 L1064.9,312.8 L1065.9,313.8 L1066.9,313.6 L1067.9,313.9 L1068.9,311.8 L1069.9,318.7 L1070.9,319.5 L1071.9,319.5 L1072.9,314.8 L1073.9,317.7 L1074.9,317.9 L1075.9,323.3 L1076.9,317.8 L1077.9,318.8 L1078.9,315.0 L1079.9,317.0 L1080.9,317.5 L1081.9,319.7 L1082.9,320.3 L1083.9,318.8 L1084.9,320.5 L1085.9,324.7 L1086.9,326.6 L1087.9,325.3 L1088.9,318.8 L1089.9,322.2 L1090.9,319.4 L1091.9,323.1 L1092.9,325.2 L1093.9,325.4 L1094.9,326.5 L1095.9,321.0 L1096.9,320.1 L1097.9,318.1 L1098.9,320.6 L1099.9,321.7 L1100.9,322.8 L1101.9,323.7 L1102.9,325.9 L1103.9,324.7 L1104.9,326.1 L1105.9,326.5 L1106.9,331.2 L1107.9,326.7 L1108.9,329.4 L1109.9,324.6 L1110.9,323.3 L1111.9,319.6 L1112.9,321.2 L1113.9,324.7 L1114.9,324.4 L1115.9,326.1 L1116.9,328.0 L1117.9,327.8 L1118.9,324.2 L1119.9,321.1 L1120.9,323.7 L1121.9,327.5 L1122.9,327.5 L1123.9,324.4 L1124.9,322.9 L1125.9,325.1 L1126.9,325.6 L1127.9,327.8 L1128.9,326.5 L1129.9,328.2 L1130.9,324.8 L1131.9,326.8 L1132.9,326.3 L1133.9,324.8 L1134.9,323.8 L1135.9,322.9 L1136.9,327.4 L1137.9,326.2 L1138.9,325.8 L1139.9,324.2 L1140.9,323.0 L1141.9,322.6 L1142.9,322.3 L1143.9,324.6 L1144.9,326.2 L1145.9,325.9 L1146.9,323.5 L1147.9,324.3 L1148.9,325.0 L1149.9,327.6 L1150.9,327.3 L1151.9,330.5 L1152.9,326.1 L1153.9,325.4 L1154.9,322.7 L1155.9,327.0 L1156.9,324.4 L1157.9,321.4 L1158.9,319.8 L1159.9,324.3 L1160.9,328.4 L1161.9,325.8 L1162.9,324.2 L1163.9,324.4 L1164.9,327.1 L1165.9,325.1 L1166.9,321.8 L1167.9,319.4 L1168.9,323.3 L1169.9,324.2 L1170.9,325.8 L1171.9,322.2 L1172.9,322.4 L1173.9,321.6 L1174.9,321.4 L1175.9,321.6 L1176.9,322.8 L1177.9,325.3 L1178.9,325.7 L1179.9,328.1 L1180.9,327.2 L1181.9,327.4 L1182.9,325.7 L1183.9,324.4 L1184.9,326.0 L1185.9,324.6 L1186.9,323.3 L1187.9,323.3 L1188.9,325.5 L1189.9,327.2 L1190.9,326.7 L1191.9,327.2 L1192.9,329.4 L1193.9,325.7 L1194.9,324.3 L1195.9,321.3 L1196.9,322.2 L1197.9,320.9 L1198.9,321.3 L1199.9,323.2 L1200.9,322.8 L1201.9,325.3 L1202.9,324.8 L1203.9,325.1 L1204.9,324.3 L1205.9,325.2 L1206.9,328.2 L1207.9,327.5 L1208.9,329.3 L1209.9,328.3 L1210.9,331.0 L1211.9,325.6 L1212.9,322.8 L1213.9,322.7 L1214.9,324.7 L1215.9,327.4 L1216.9,327.4 L1217.9,325.2 L1218.9,325.2 L1219.9,326.5 L1220.9,330.5 L1221.9,329.8 L1222.9,327.5 L1223.9,326.1 L1224.9,327.3 L1225.9,328.6 L1226.9,328.2 L1227.9,327.9 L1228.9,326.1 L1229.9,327.8 L1230.9,328.3 L1231.9,325.9 L1232.9,326.6 L1233.9,326.6 L1234.9,326.6 L1235.9,324.1 L1236.9,320.0 L1237.9,321.4 L1238.9,322.5 L1239.9,323.0 L1240.9,322.1 L1241.9,320.0 L1242.9,320.8 L1243.9,320.8 L1244.9,320.5 L1245.9,322.7 L1246.9,323.7 L1247.9,324.1 L1248.9,324.8 L1249.9,324.2 L1250.9,327.2 L1251.9,323.3 L1252.9,326.7 L1253.9,324.4 L1254.9,324.9 L1255.9,323.1 L1256.9,321.6 L1257.9,321.3 L1258.9,321.0 L1259.9,322.5 L1260.9,325.1 L1261.9,324.9 L1262.9,326.2 L1263.9,325.7 L1264.9,326.7 L1265.9,326.3 L1266.9,328.0 L1267.9,328.4 L1268.9,325.0 L1269.9,320.0 L1270.9,321.1 L1271.9,323.7 L1272.9,327.1 L1273.9,324.2 L1274.9,325.5 L1275.9,329.0 L1276.9,328.0 L1277.9,327.6 L1278.9,323.8 L1279.9,323.1 L1280.9,321.5 L1281.9,321.0 L1282.9,322.9 L1283.9,325.1 L1284.9,322.2 L1285.9,319.5 L1286.9,321.7 L1287.9,324.8 L1288.9,328.9 L1289.9,325.3 L1290.9,324.4 L1291.9,326.7 L1292.9,325.3 L1293.9,324.9 L1294.9,322.4 L1295.9,324.6 L1296.9,323.3 L1297.9,322.4 L1298.9,323.7 L1299.9,323.9 L1300.9,322.6 L1301.9,322.7 L1302.9,328.7 L1303.9,325.6 L1304.9,323.1 L1305.9,319.8 L1306.9,322.2 L1307.9,321.8 L1308.9,320.9 L1309.9,323.4 L1310.9,323.1 L1311.9,325.5 L1312.9,326.0 L1313.9,329.3 L1314.9,330.5 L1315.9,328.1 L1316.9,326.6 L1317.9,325.6 L1318.9,328.7 L1319.9,330.4 L1320.9,327.9 L1321.9,324.9 L1322.9,321.0 L1323.9,321.0 L1324.9,320.3 L1325.9,321.7 L1326.9,321.8 L1327.9,324.8 L1328.9,327.1 L1329.9,327.7 L1330.9,324.3 L1331.9,322.7 L1332.9,323.5 L1333.9,327.0 L1334.9,327.4 L1335.9,328.1 L1336.9,325.4 L1337.9,326.2 L1338.9,326.1 L1339.9,326.6 L1340.9,324.1 L1341.9,325.0 L1342.9,323.9 L1343.9,326.4 L1344.9,323.8 L1345.9,324.9 L1346.9,323.3 L1347.9,323.0 L1348.9,323.6 L1349.9,327.1 L1350.9,330.4 L1351.9,330.2 L1352.9,327.9 L1353.9,327.0 L1354.9,326.5 L1355.9,328.9 L1356.9,327.4 L1357.9,329.2 L1358.9,324.3 L1359.9,322.4 L1360.9,319.6 L1361.9,320.1 L1362.9,323.8 L1363.9,325.0 L1364.9,327.6 L1365.9,325.1 L1366.9,324.0 L1367.9,322.8 L1368.9,322.9 L1369.9,321.6 L1370.9,321.4 L1371.9,324.2 L1372.9,326.7 L1373.9,324.5 L1374.9,321.2 L1375.9,319.4 L1376.9,321.1 L1377.9,320.8 L1378.9,322.7 L1379.9,323.4 L1380.9,327.3 L1381.9,325.5 L1382.9,321.7 L1383.9,322.2 L1384.9,325.0 L1385.9,327.9 L1386.9,326.0 L1387.9,323.6 L1388.9,323.7 L1389.9,321.7" fill="none" stroke="#238b45" stroke-width="3.6" stroke-linejoin="round" opacity="1.00"/>
<path d="M959.9,335.6 L960.9,326.7 L961.9,317.5 L962.9,306.8 L963.9,293.7 L964.9,283.6 L965.9,272.9 L966.9,266.5 L967.9,257.1 L968.9,247.8 L969.9,235.5 L970.9,225.6 L971.9,217.6 L972.9,212.6 L973.9,203.1 L974.9,192.0 L975.9,185.8 L976.9,183.7 L977.9,183.7 L978.9,179.6 L979.9,174.8 L980.9,174.9 L981.9,175.0 L982.9,182.5 L983.9,189.2 L984.9,194.6 L985.9,203.2 L986.9,212.9 L987.9,224.9 L988.9,238.5 L989.9,250.8 L990.9,257.0 L991.9,264.8 L992.9,273.3 L993.9,287.8 L994.9,296.2 L995.9,299.7 L996.9,304.4 L997.9,308.7 L998.9,319.1 L999.9,323.8 L1000.9,326.9 L1001.9,332.8 L1002.9,335.7 L1003.9,344.8 L1004.9,345.2 L1005.9,348.2 L1006.9,345.3 L1007.9,345.5 L1008.9,347.0 L1009.9,351.5 L1010.9,353.1 L1011.9,357.4 L1012.9,358.9 L1013.9,361.4 L1014.9,357.8 L1015.9,356.9 L1016.9,356.8 L1017.9,360.3 L1018.9,362.0 L1019.9,360.2 L1020.9,357.3 L1021.9,359.0 L1022.9,358.5 L1023.9,359.3 L1024.9,358.8 L1025.9,359.8 L1026.9,358.9 L1027.9,357.2 L1028.9,356.2 L1029.9,358.5 L1030.9,355.7 L1031.9,353.4 L1032.9,353.7 L1033.9,354.3 L1034.9,354.1 L1035.9,348.6 L1036.9,343.0 L1037.9,340.2 L1038.9,336.7 L1039.9,338.1 L1040.9,338.8 L1041.9,338.4 L1042.9,334.5 L1043.9,331.4 L1044.9,329.9 L1045.9,329.5 L1046.9,327.7 L1047.9,326.8 L1048.9,325.5 L1049.9,321.9 L1050.9,320.9 L1051.9,315.9 L1052.9,316.3 L1053.9,313.7 L1054.9,315.9 L1055.9,314.8 L1056.9,315.0 L1057.9,311.2 L1058.9,310.1 L1059.9,308.5 L1060.9,311.7 L1061.9,312.9 L1062.9,313.4 L1063.9,312.2 L1064.9,311.0 L1065.9,311.5 L1066.9,313.0 L1067.9,315.3 L1068.9,315.5 L1069.9,313.7 L1070.9,311.8 L1071.9,313.4 L1072.9,313.7 L1073.9,314.7 L1074.9,310.7 L1075.9,313.8 L1076.9,315.0 L1077.9,317.9 L1078.9,316.9 L1079.9,318.2 L1080.9,319.5 L1081.9,320.7 L1082.9,320.4 L1083.9,319.4 L1084.9,317.1 L1085.9,319.1 L1086.9,320.6 L1087.9,325.3 L1088.9,326.0 L1089.9,326.5 L1090.9,324.0 L1091.9,321.7 L1092.9,324.9 L1093.9,326.0 L1094.9,326.5 L1095.9,325.6 L1096.9,324.3 L1097.9,324.0 L1098.9,322.0 L1099.9,323.4 L1100.9,322.5 L1101.9,322.5 L1102.9,322.9 L1103.9,323.5 L1104.9,322.9 L1105.9,323.2 L1106.9,323.2 L1107.9,324.3 L1108.9,324.8 L1109.9,326.4 L1110.9,329.2 L1111.9,327.9 L1112.9,325.6 L1113.9,323.4 L1114.9,323.8 L1115.9,327.1 L1116.9,324.5 L1117.9,323.9 L1118.9,324.4 L1119.9,326.7 L1120.9,328.5 L1121.9,325.9 L1122.9,326.2 L1123.9,324.6 L1124.9,327.8 L1125.9,325.7 L1126.9,327.4 L1127.9,325.4 L1128.9,326.9 L1129.9,324.2 L1130.9,322.3 L1131.9,320.0 L1132.9,321.4 L1133.9,321.5 L1134.9,325.2 L1135.9,325.4 L1136.9,327.4 L1137.9,327.4 L1138.9,326.6 L1139.9,327.2 L1140.9,323.1 L1141.9,322.5 L1142.9,322.6 L1143.9,324.8 L1144.9,327.8 L1145.9,326.4 L1146.9,325.4 L1147.9,325.0 L1148.9,325.1 L1149.9,326.1 L1150.9,324.0 L1151.9,322.7 L1152.9,322.5 L1153.9,323.8 L1154.9,323.9 L1155.9,324.2 L1156.9,322.0 L1157.9,323.1 L1158.9,324.1 L1159.9,326.0 L1160.9,325.4 L1161.9,323.6 L1162.9,323.3 L1163.9,325.1 L1164.9,327.1 L1165.9,330.6 L1166.9,329.5 L1167.9,327.9 L1168.9,323.6 L1169.9,324.9 L1170.9,324.3 L1171.9,324.5 L1172.9,320.8 L1173.9,321.9 L1174.9,323.1 L1175.9,326.9 L1176.9,328.1 L1177.9,328.6 L1178.9,326.1 L1179.9,327.5 L1180.9,328.5 L1181.9,327.2 L1182.9,323.3 L1183.9,321.9 L1184.9,325.2 L1185.9,328.7 L1186.9,327.9 L1187.9,325.4 L1188.9,322.5 L1189.9,324.3 L1190.9,325.7 L1191.9,324.3 L1192.9,321.9 L1193.9,322.9 L1194.9,325.4 L1195.9,326.5 L1196.9,326.2 L1197.9,326.2 L1198.9,323.9 L1199.9,323.2 L1200.9,324.2 L1201.9,324.8 L1202.9,326.2 L1203.9,328.0 L1204.9,330.0 L1205.9,329.0 L1206.9,326.3 L1207.9,324.0 L1208.9,325.6 L1209.9,325.0 L1210.9,325.3 L1211.9,325.6 L1212.9,327.6 L1213.9,327.8 L1214.9,325.7 L1215.9,324.7 L1216.9,326.7 L1217.9,323.7 L1218.9,321.9 L1219.9,318.8 L1220.9,321.7 L1221.9,322.0 L1222.9,324.6 L1223.9,327.1 L1224.9,328.8 L1225.9,327.0 L1226.9,324.2 L1227.9,324.0 L1228.9,322.8 L1229.9,324.6 L1230.9,324.4 L1231.9,328.0 L1232.9,328.0 L1233.9,328.0 L1234.9,328.8 L1235.9,327.8 L1236.9,326.0 L1237.9,324.1 L1238.9,323.3 L1239.9,325.9 L1240.9,328.4 L1241.9,326.4 L1242.9,325.2 L1243.9,321.7 L1244.9,324.1 L1245.9,325.3 L1246.9,328.6 L1247.9,326.0 L1248.9,324.9 L1249.9,324.5 L1250.9,325.7 L1251.9,326.5 L1252.9,325.3 L1253.9,328.5 L1254.9,328.1 L1255.9,324.2 L1256.9,320.6 L1257.9,320.1 L1258.9,322.8 L1259.9,323.7 L1260.9,325.3 L1261.9,324.1 L1262.9,324.9 L1263.9,324.6 L1264.9,323.5 L1265.9,323.6 L1266.9,321.8 L1267.9,323.6 L1268.9,326.4 L1269.9,325.8 L1270.9,327.7 L1271.9,323.5 L1272.9,323.0 L1273.9,322.3 L1274.9,325.1 L1275.9,326.3 L1276.9,326.9 L1277.9,325.1 L1278.9,326.8 L1279.9,326.3 L1280.9,326.9 L1281.9,326.3 L1282.9,326.7 L1283.9,326.6 L1284.9,325.0 L1285.9,324.6 L1286.9,323.9 L1287.9,326.2 L1288.9,325.9 L1289.9,327.7 L1290.9,325.1 L1291.9,325.9 L1292.9,322.5 L1293.9,322.4 L1294.9,323.3 L1295.9,325.9 L1296.9,323.8 L1297.9,321.5 L1298.9,320.8 L1299.9,322.8 L1300.9,321.2 L1301.9,319.6 L1302.9,322.9 L1303.9,324.3 L1304.9,327.3 L1305.9,325.9 L1306.9,325.4 L1307.9,324.5 L1308.9,323.8 L1309.9,323.4 L1310.9,323.4 L1311.9,323.3 L1312.9,325.1 L1313.9,324.3 L1314.9,323.6 L1315.9,323.2 L1316.9,322.5 L1317.9,324.5 L1318.9,325.0 L1319.9,326.3 L1320.9,324.5 L1321.9,324.5 L1322.9,324.6 L1323.9,324.3 L1324.9,324.7 L1325.9,327.1 L1326.9,330.6 L1327.9,330.6 L1328.9,327.7 L1329.9,329.5 L1330.9,329.2 L1331.9,330.1 L1332.9,324.3 L1333.9,324.0 L1334.9,322.9 L1335.9,323.2 L1336.9,322.9 L1337.9,323.8 L1338.9,324.8 L1339.9,325.0 L1340.9,322.0 L1341.9,322.6 L1342.9,321.4 L1343.9,323.8 L1344.9,320.9 L1345.9,322.7 L1346.9,323.4 L1347.9,325.2 L1348.9,323.9 L1349.9,322.6 L1350.9,325.0 L1351.9,324.8 L1352.9,324.0 L1353.9,320.9 L1354.9,321.9 L1355.9,323.1 L1356.9,324.0 L1357.9,324.3 L1358.9,326.6 L1359.9,329.4 L1360.9,328.2 L1361.9,326.1 L1362.9,323.1 L1363.9,325.3 L1364.9,327.8 L1365.9,329.5 L1366.9,327.8 L1367.9,326.0 L1368.9,323.3 L1369.9,323.5 L1370.9,323.3 L1371.9,323.6 L1372.9,323.9 L1373.9,325.4 L1374.9,325.9 L1375.9,326.2 L1376.9,324.3 L1377.9,322.2 L1378.9,322.7 L1379.9,321.2 L1380.9,321.6 L1381.9,321.1 L1382.9,323.0 L1383.9,326.0 L1384.9,326.0 L1385.9,327.5 L1386.9,327.3 L1387.9,328.2 L1388.9,327.3 L1389.9,328.0" fill="none" stroke="#00501f" stroke-width="4.0" stroke-linejoin="round" opacity="1.00"/>
</g>
<g stroke="#000" stroke-width="3.3" stroke-linecap="round" fill="none">
<path d="M871.9,76.9 L871.9,465.7 L1390.8,465.7"/>
<path d="M864.2,465.7 L871.9,465.7"/>
<path d="M864.2,336.1 L871.9,336.1"/>
<path d="M864.2,206.5 L871.9,206.5"/>
<path d="M864.2,76.9 L871.9,76.9"/>
<path d="M871.9,465.7 L871.9,473.4"/>
<path d="M975.7,465.7 L975.7,473.4"/>
<path d="M1079.5,465.7 L1079.5,473.4"/>
<path d="M1183.2,465.7 L1183.2,473.4"/>
<path d="M1287.0,465.7 L1287.0,473.4"/>
<path d="M1390.8,465.7 L1390.8,473.4"/>
<path d="M1391.5,192.9 L1391.5,361.0"/>
<path d="M1391.5,361.0 L1398.7,361.0"/>
<path d="M1391.5,305.0 L1398.7,305.0"/>
<path d="M1391.5,248.9 L1398.7,248.9"/>
<path d="M1391.5,192.9 L1398.7,192.9"/>
</g>
<path d="M495.3,121.7 L528.2,121.7" stroke="#999999" stroke-width="7" stroke-linecap="round"/>
<path d="M444.6,167.3 L479.2,167.3" stroke="#ffa000" stroke-width="7" stroke-linecap="round"/>
<path d="M495.3,167.3 L528.2,167.3" stroke="#fa0000" stroke-width="7" stroke-linecap="round"/>
<path d="M444.6,212.9 L479.2,212.9" stroke="#6baed6" stroke-width="7" stroke-linecap="round"/>
<path d="M495.3,212.9 L528.2,212.9" stroke="#3a3aff" stroke-width="7" stroke-linecap="round"/>
<path d="M1099.6,123.5 L1132.0,123.5" stroke="#3a3aff" stroke-width="7" stroke-linecap="round"/>
<path d="M1099.6,166.7 L1132.0,166.7" stroke="#238b45" stroke-width="7" stroke-linecap="round"/>
<text transform="translate(-3.80 27.00)" font-size="40.00" text-anchor="start" font-weight="bold">a</text>
<text transform="translate(771.50 27.30)" font-size="40.00" text-anchor="start" font-weight="bold">b</text>
<text transform="translate(77.50 88.30) scale(1.000 1.050)" font-size="33.50" text-anchor="end" font-weight="normal">3</text>
<text transform="translate(77.50 218.60) scale(1.000 1.050)" font-size="33.50" text-anchor="end" font-weight="normal">2</text>
<text transform="translate(77.50 349.20) scale(1.000 1.050)" font-size="33.50" text-anchor="end" font-weight="normal">1</text>
<text transform="translate(77.50 479.80) scale(1.000 1.050)" font-size="33.50" text-anchor="end" font-weight="normal">0</text>
<text transform="translate(222.40 507.20) scale(1.000 1.050)" font-size="33.50" text-anchor="middle" font-weight="normal">0</text>
<text transform="translate(469.20 507.20) scale(1.000 1.050)" font-size="33.50" text-anchor="middle" font-weight="normal">500</text>
<text transform="translate(715.90 507.20) scale(1.000 1.050)" font-size="33.50" text-anchor="middle" font-weight="normal">1000</text>
<text transform="translate(407.70 535.60)" font-size="36.50" text-anchor="middle" font-weight="normal">Position relative to +1 nucleosome (bp)</text>
<text transform="translate(44.30 271.60) rotate(-90)" font-size="36.70" text-anchor="middle" font-weight="normal">Nucleosome dyad density</text>
<text transform="translate(561.00 135.00)" font-size="36.00" text-anchor="start" font-weight="normal">WT</text>
<text transform="translate(561.00 180.50)" font-size="36.00" text-anchor="start" font-weight="normal">HD</text>
<text transform="translate(561.00 226.00)" font-size="36.00" text-anchor="start" font-weight="normal">TKO HD</text>
<text transform="translate(850.20 89.40) scale(1.000 1.050)" font-size="33.50" text-anchor="end" font-weight="normal">3</text>
<text transform="translate(850.20 219.00) scale(1.000 1.050)" font-size="33.50" text-anchor="end" font-weight="normal">2</text>
<text transform="translate(850.20 348.60) scale(1.000 1.050)" font-size="33.50" text-anchor="end" font-weight="normal">1</text>
<text transform="translate(850.20 478.20) scale(1.000 1.050)" font-size="33.50" text-anchor="end" font-weight="normal">0</text>
<text transform="translate(975.60 505.20) scale(1.000 1.050)" font-size="33.50" text-anchor="middle" font-weight="normal">0</text>
<text transform="translate(1183.20 505.20) scale(1.000 1.050)" font-size="33.50" text-anchor="middle" font-weight="normal">500</text>
<text transform="translate(1390.80 505.20) scale(1.000 1.050)" font-size="33.50" text-anchor="middle" font-weight="normal">1000</text>
<text transform="translate(1131.50 537.00)" font-size="36.00" text-anchor="middle" font-weight="normal">Position relative to +1 nucleosome (bp)</text>
<text transform="translate(816.00 271.25) rotate(-90)" font-size="36.00" text-anchor="middle" font-weight="normal">Nucleosome dyad density</text>
<text transform="translate(1164.00 137.20)" font-size="36.00" text-anchor="start" font-weight="normal">TKO HD</text>
<text transform="translate(1164.00 180.20)" font-size="36.00" text-anchor="start" font-weight="normal">Simulation</text>
<text transform="translate(1412.00 261.00) scale(1.000 1.050)" font-size="33.50" text-anchor="start" font-weight="normal">100</text>
<text transform="translate(1412.00 372.80) scale(1.000 1.050)" font-size="33.50" text-anchor="start" font-weight="normal">0</text>
<text transform="translate(1500.20 271.80) rotate(-90)" font-size="36.00" text-anchor="middle" font-weight="normal">Simulation counts</text>
</svg>
</body></html>
